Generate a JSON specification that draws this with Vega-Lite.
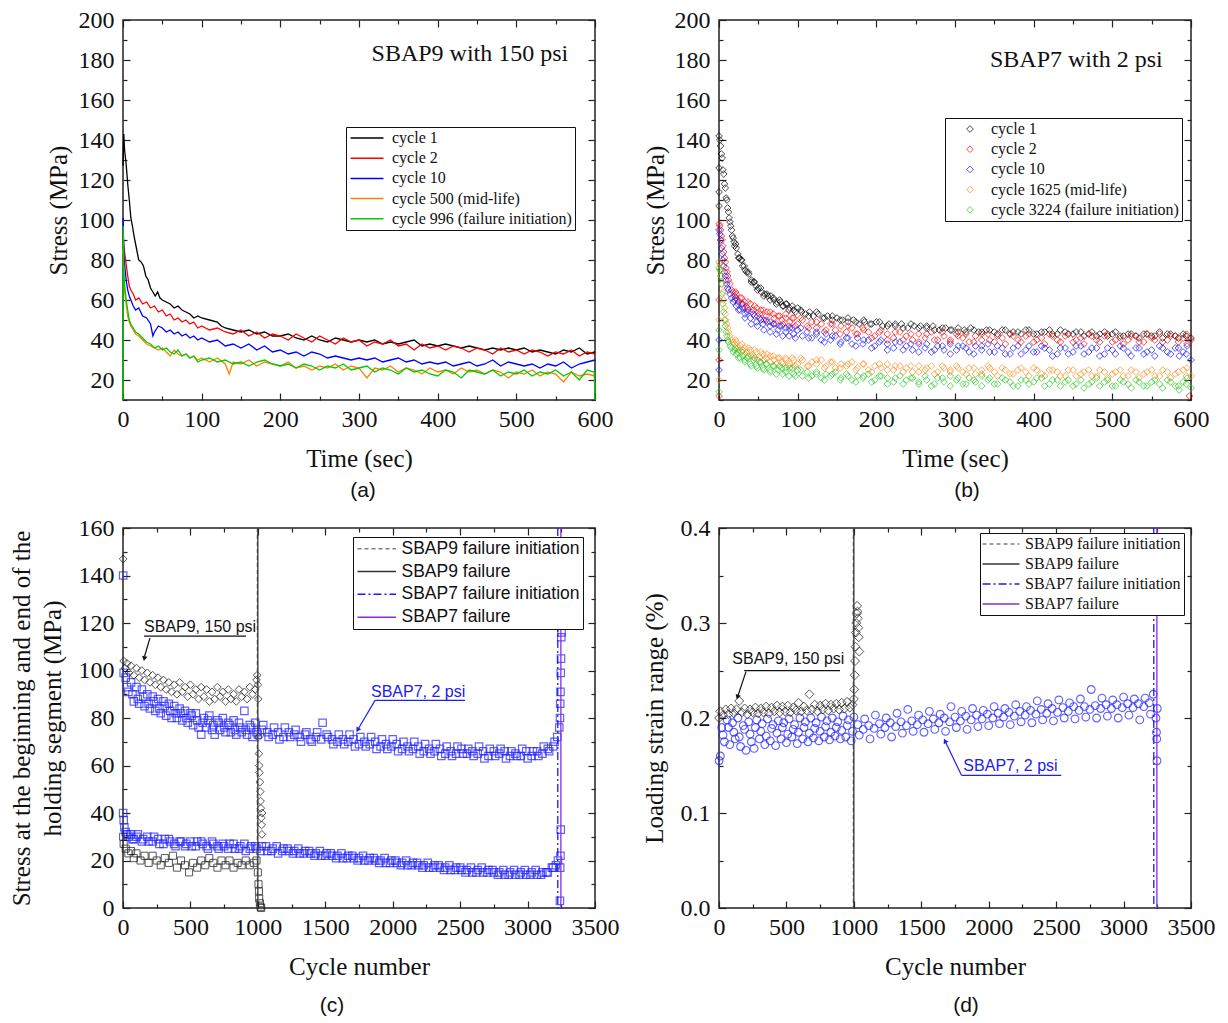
{
"$schema": "https://vega.github.io/schema/vega-lite/v6.json",
"background": "white",
"padding": {"left": 8, "top": 7, "right": 5, "bottom": 5},
"columns": 2,
"spacing": {"row": 128, "column": 124},
"bounds": "flush",
"align": "all",
"resolve": {"scale": {"color": "independent", "shape": "independent", "strokeDash": "independent", "x": "independent", "y": "independent"}, "legend": {"color": "independent", "strokeDash": "independent"}},
"datasets": {
"a": [
{"t":0,"s":127,"c":"1"},{"t":1,"s":143,"c":"1"},{"t":2,"s":135,"c":"1"},{"t":4,"s":128,"c":"1"},{"t":6,"s":118,"c":"1"},{"t":8,"s":110,"c":"1"},{"t":10,"s":101,"c":"1"},{"t":12,"s":97,"c":"1"},{"t":14,"s":92,"c":"1"},{"t":16,"s":88,"c":"1"},{"t":18,"s":84,"c":"1"},{"t":20,"s":80,"c":"1"},{"t":23,"s":79,"c":"1"},{"t":26,"s":77,"c":"1"},{"t":29,"s":72,"c":"1"},{"t":32,"s":70,"c":"1"},{"t":35,"s":66,"c":"1"},{"t":38,"s":64,"c":"1"},{"t":41,"s":62,"c":"1"},{"t":44,"s":64,"c":"1"},{"t":47,"s":61,"c":"1"},{"t":50,"s":60,"c":"1"},{"t":55,"s":59,"c":"1"},{"t":60,"s":58,"c":"1"},{"t":65,"s":56,"c":"1"},{"t":70,"s":57,"c":"1"},{"t":75,"s":55,"c":"1"},{"t":80,"s":54,"c":"1"},{"t":85,"s":53,"c":"1"},{"t":90,"s":51,"c":"1"},{"t":95,"s":52,"c":"1"},{"t":100,"s":51,"c":"1"},{"t":110,"s":50,"c":"1"},{"t":120,"s":49,"c":"1"},{"t":125,"s":47,"c":"1"},{"t":130,"s":46,"c":"1"},{"t":140,"s":45,"c":"1"},{"t":150,"s":44,"c":"1"},{"t":160,"s":45,"c":"1"},{"t":170,"s":43,"c":"1"},{"t":180,"s":44,"c":"1"},{"t":190,"s":42,"c":"1"},{"t":200,"s":42,"c":"1"},{"t":210,"s":43,"c":"1"},{"t":220,"s":41,"c":"1"},{"t":230,"s":40,"c":"1"},{"t":240,"s":42,"c":"1"},{"t":250,"s":40,"c":"1"},{"t":260,"s":39,"c":"1"},{"t":270,"s":41,"c":"1"},{"t":280,"s":40,"c":"1"},{"t":290,"s":39,"c":"1"},{"t":300,"s":40,"c":"1"},{"t":310,"s":39,"c":"1"},{"t":320,"s":40,"c":"1"},{"t":330,"s":38,"c":"1"},{"t":340,"s":39,"c":"1"},{"t":350,"s":38,"c":"1"},{"t":360,"s":39,"c":"1"},{"t":370,"s":40,"c":"1"},{"t":380,"s":37,"c":"1"},{"t":390,"s":38,"c":"1"},{"t":400,"s":37,"c":"1"},{"t":410,"s":38,"c":"1"},{"t":420,"s":37,"c":"1"},{"t":430,"s":36,"c":"1"},{"t":440,"s":37,"c":"1"},{"t":450,"s":36,"c":"1"},{"t":460,"s":35,"c":"1"},{"t":470,"s":36,"c":"1"},{"t":480,"s":35,"c":"1"},{"t":490,"s":36,"c":"1"},{"t":500,"s":35,"c":"1"},{"t":510,"s":36,"c":"1"},{"t":520,"s":34,"c":"1"},{"t":530,"s":35,"c":"1"},{"t":540,"s":34,"c":"1"},{"t":550,"s":33,"c":"1"},{"t":560,"s":35,"c":"1"},{"t":570,"s":34,"c":"1"},{"t":580,"s":36,"c":"1"},{"t":590,"s":33,"c":"1"},{"t":600,"s":34,"c":"1"},
{"t":0,"s":93,"c":"2"},{"t":1,"s":88,"c":"2"},{"t":2,"s":84,"c":"2"},{"t":4,"s":78,"c":"2"},{"t":6,"s":72,"c":"2"},{"t":8,"s":67,"c":"2"},{"t":10,"s":65,"c":"2"},{"t":13,"s":63,"c":"2"},{"t":16,"s":60,"c":"2"},{"t":20,"s":61,"c":"2"},{"t":25,"s":58,"c":"2"},{"t":30,"s":59,"c":"2"},{"t":35,"s":56,"c":"2"},{"t":40,"s":57,"c":"2"},{"t":45,"s":54,"c":"2"},{"t":50,"s":55,"c":"2"},{"t":55,"s":52,"c":"2"},{"t":60,"s":53,"c":"2"},{"t":65,"s":50,"c":"2"},{"t":70,"s":51,"c":"2"},{"t":75,"s":49,"c":"2"},{"t":80,"s":50,"c":"2"},{"t":85,"s":48,"c":"2"},{"t":90,"s":49,"c":"2"},{"t":95,"s":46,"c":"2"},{"t":100,"s":47,"c":"2"},{"t":110,"s":45,"c":"2"},{"t":120,"s":46,"c":"2"},{"t":130,"s":44,"c":"2"},{"t":140,"s":43,"c":"2"},{"t":150,"s":45,"c":"2"},{"t":160,"s":42,"c":"2"},{"t":170,"s":44,"c":"2"},{"t":180,"s":41,"c":"2"},{"t":190,"s":43,"c":"2"},{"t":200,"s":42,"c":"2"},{"t":210,"s":40,"c":"2"},{"t":220,"s":43,"c":"2"},{"t":230,"s":41,"c":"2"},{"t":240,"s":39,"c":"2"},{"t":250,"s":42,"c":"2"},{"t":260,"s":40,"c":"2"},{"t":270,"s":38,"c":"2"},{"t":280,"s":41,"c":"2"},{"t":290,"s":39,"c":"2"},{"t":300,"s":40,"c":"2"},{"t":310,"s":37,"c":"2"},{"t":320,"s":39,"c":"2"},{"t":330,"s":38,"c":"2"},{"t":340,"s":40,"c":"2"},{"t":350,"s":37,"c":"2"},{"t":360,"s":38,"c":"2"},{"t":370,"s":35,"c":"2"},{"t":380,"s":38,"c":"2"},{"t":390,"s":36,"c":"2"},{"t":400,"s":37,"c":"2"},{"t":410,"s":35,"c":"2"},{"t":420,"s":37,"c":"2"},{"t":430,"s":36,"c":"2"},{"t":440,"s":34,"c":"2"},{"t":450,"s":36,"c":"2"},{"t":460,"s":35,"c":"2"},{"t":470,"s":33,"c":"2"},{"t":480,"s":36,"c":"2"},{"t":490,"s":34,"c":"2"},{"t":500,"s":35,"c":"2"},{"t":510,"s":33,"c":"2"},{"t":520,"s":35,"c":"2"},{"t":530,"s":34,"c":"2"},{"t":540,"s":32,"c":"2"},{"t":550,"s":34,"c":"2"},{"t":560,"s":33,"c":"2"},{"t":570,"s":35,"c":"2"},{"t":580,"s":32,"c":"2"},{"t":590,"s":34,"c":"2"},{"t":600,"s":33,"c":"2"},
{"t":0,"s":101,"c":"10"},{"t":1,"s":85,"c":"10"},{"t":2,"s":78,"c":"10"},{"t":4,"s":70,"c":"10"},{"t":6,"s":65,"c":"10"},{"t":8,"s":62,"c":"10"},{"t":10,"s":60,"c":"10"},{"t":13,"s":57,"c":"10"},{"t":16,"s":55,"c":"10"},{"t":20,"s":56,"c":"10"},{"t":25,"s":52,"c":"10"},{"t":30,"s":51,"c":"10"},{"t":35,"s":48,"c":"10"},{"t":38,"s":42,"c":"10"},{"t":40,"s":44,"c":"10"},{"t":45,"s":47,"c":"10"},{"t":50,"s":46,"c":"10"},{"t":55,"s":44,"c":"10"},{"t":60,"s":45,"c":"10"},{"t":65,"s":43,"c":"10"},{"t":70,"s":44,"c":"10"},{"t":75,"s":42,"c":"10"},{"t":80,"s":43,"c":"10"},{"t":85,"s":41,"c":"10"},{"t":90,"s":42,"c":"10"},{"t":95,"s":40,"c":"10"},{"t":100,"s":41,"c":"10"},{"t":110,"s":39,"c":"10"},{"t":120,"s":40,"c":"10"},{"t":130,"s":37,"c":"10"},{"t":140,"s":38,"c":"10"},{"t":150,"s":36,"c":"10"},{"t":160,"s":38,"c":"10"},{"t":170,"s":35,"c":"10"},{"t":180,"s":37,"c":"10"},{"t":190,"s":34,"c":"10"},{"t":200,"s":35,"c":"10"},{"t":210,"s":33,"c":"10"},{"t":220,"s":34,"c":"10"},{"t":230,"s":32,"c":"10"},{"t":240,"s":34,"c":"10"},{"t":250,"s":33,"c":"10"},{"t":260,"s":31,"c":"10"},{"t":270,"s":32,"c":"10"},{"t":280,"s":31,"c":"10"},{"t":290,"s":30,"c":"10"},{"t":300,"s":31,"c":"10"},{"t":310,"s":30,"c":"10"},{"t":320,"s":31,"c":"10"},{"t":330,"s":29,"c":"10"},{"t":340,"s":30,"c":"10"},{"t":350,"s":31,"c":"10"},{"t":360,"s":29,"c":"10"},{"t":370,"s":30,"c":"10"},{"t":380,"s":28,"c":"10"},{"t":390,"s":29,"c":"10"},{"t":400,"s":28,"c":"10"},{"t":410,"s":29,"c":"10"},{"t":420,"s":27,"c":"10"},{"t":430,"s":28,"c":"10"},{"t":440,"s":29,"c":"10"},{"t":450,"s":27,"c":"10"},{"t":460,"s":28,"c":"10"},{"t":470,"s":30,"c":"10"},{"t":480,"s":27,"c":"10"},{"t":490,"s":29,"c":"10"},{"t":500,"s":28,"c":"10"},{"t":510,"s":27,"c":"10"},{"t":520,"s":28,"c":"10"},{"t":530,"s":26,"c":"10"},{"t":540,"s":28,"c":"10"},{"t":550,"s":27,"c":"10"},{"t":560,"s":29,"c":"10"},{"t":570,"s":26,"c":"10"},{"t":580,"s":28,"c":"10"},{"t":590,"s":29,"c":"10"},{"t":600,"s":30,"c":"10"},
{"t":0,"s":85,"c":"500"},{"t":1,"s":70,"c":"500"},{"t":2,"s":64,"c":"500"},{"t":4,"s":58,"c":"500"},{"t":6,"s":52,"c":"500"},{"t":8,"s":49,"c":"500"},{"t":10,"s":47,"c":"500"},{"t":13,"s":45,"c":"500"},{"t":16,"s":43,"c":"500"},{"t":20,"s":42,"c":"500"},{"t":25,"s":40,"c":"500"},{"t":30,"s":38,"c":"500"},{"t":35,"s":37,"c":"500"},{"t":40,"s":36,"c":"500"},{"t":45,"s":35,"c":"500"},{"t":50,"s":36,"c":"500"},{"t":55,"s":34,"c":"500"},{"t":60,"s":32,"c":"500"},{"t":65,"s":35,"c":"500"},{"t":70,"s":33,"c":"500"},{"t":75,"s":32,"c":"500"},{"t":80,"s":33,"c":"500"},{"t":85,"s":31,"c":"500"},{"t":90,"s":32,"c":"500"},{"t":95,"s":30,"c":"500"},{"t":100,"s":31,"c":"500"},{"t":110,"s":29,"c":"500"},{"t":120,"s":31,"c":"500"},{"t":130,"s":28,"c":"500"},{"t":135,"s":23,"c":"500"},{"t":140,"s":29,"c":"500"},{"t":150,"s":28,"c":"500"},{"t":160,"s":30,"c":"500"},{"t":170,"s":27,"c":"500"},{"t":180,"s":29,"c":"500"},{"t":190,"s":28,"c":"500"},{"t":200,"s":27,"c":"500"},{"t":210,"s":29,"c":"500"},{"t":220,"s":26,"c":"500"},{"t":230,"s":27,"c":"500"},{"t":240,"s":25,"c":"500"},{"t":250,"s":27,"c":"500"},{"t":260,"s":26,"c":"500"},{"t":270,"s":28,"c":"500"},{"t":280,"s":25,"c":"500"},{"t":290,"s":27,"c":"500"},{"t":300,"s":26,"c":"500"},{"t":310,"s":21,"c":"500"},{"t":320,"s":26,"c":"500"},{"t":330,"s":25,"c":"500"},{"t":340,"s":27,"c":"500"},{"t":350,"s":24,"c":"500"},{"t":360,"s":26,"c":"500"},{"t":370,"s":25,"c":"500"},{"t":380,"s":23,"c":"500"},{"t":390,"s":26,"c":"500"},{"t":400,"s":24,"c":"500"},{"t":410,"s":25,"c":"500"},{"t":420,"s":23,"c":"500"},{"t":430,"s":26,"c":"500"},{"t":440,"s":24,"c":"500"},{"t":450,"s":25,"c":"500"},{"t":460,"s":23,"c":"500"},{"t":470,"s":25,"c":"500"},{"t":480,"s":24,"c":"500"},{"t":490,"s":21,"c":"500"},{"t":500,"s":24,"c":"500"},{"t":510,"s":23,"c":"500"},{"t":520,"s":25,"c":"500"},{"t":530,"s":22,"c":"500"},{"t":540,"s":24,"c":"500"},{"t":550,"s":23,"c":"500"},{"t":560,"s":19,"c":"500"},{"t":570,"s":24,"c":"500"},{"t":580,"s":22,"c":"500"},{"t":590,"s":23,"c":"500"},{"t":600,"s":22,"c":"500"},
{"t":0,"s":10,"c":"996"},{"t":0.3,"s":97,"c":"996"},{"t":1,"s":75,"c":"996"},{"t":2,"s":68,"c":"996"},{"t":4,"s":60,"c":"996"},{"t":6,"s":55,"c":"996"},{"t":8,"s":50,"c":"996"},{"t":10,"s":48,"c":"996"},{"t":13,"s":46,"c":"996"},{"t":16,"s":44,"c":"996"},{"t":20,"s":43,"c":"996"},{"t":25,"s":41,"c":"996"},{"t":30,"s":39,"c":"996"},{"t":35,"s":38,"c":"996"},{"t":40,"s":36,"c":"996"},{"t":45,"s":37,"c":"996"},{"t":50,"s":35,"c":"996"},{"t":55,"s":36,"c":"996"},{"t":60,"s":34,"c":"996"},{"t":65,"s":33,"c":"996"},{"t":70,"s":35,"c":"996"},{"t":75,"s":32,"c":"996"},{"t":80,"s":33,"c":"996"},{"t":85,"s":31,"c":"996"},{"t":90,"s":32,"c":"996"},{"t":95,"s":29,"c":"996"},{"t":100,"s":30,"c":"996"},{"t":110,"s":31,"c":"996"},{"t":120,"s":29,"c":"996"},{"t":130,"s":30,"c":"996"},{"t":140,"s":28,"c":"996"},{"t":150,"s":29,"c":"996"},{"t":160,"s":27,"c":"996"},{"t":170,"s":29,"c":"996"},{"t":180,"s":30,"c":"996"},{"t":190,"s":28,"c":"996"},{"t":200,"s":27,"c":"996"},{"t":210,"s":28,"c":"996"},{"t":220,"s":26,"c":"996"},{"t":230,"s":28,"c":"996"},{"t":240,"s":27,"c":"996"},{"t":250,"s":25,"c":"996"},{"t":260,"s":27,"c":"996"},{"t":270,"s":26,"c":"996"},{"t":280,"s":28,"c":"996"},{"t":290,"s":25,"c":"996"},{"t":300,"s":26,"c":"996"},{"t":310,"s":27,"c":"996"},{"t":320,"s":24,"c":"996"},{"t":330,"s":26,"c":"996"},{"t":340,"s":25,"c":"996"},{"t":350,"s":23,"c":"996"},{"t":360,"s":26,"c":"996"},{"t":370,"s":24,"c":"996"},{"t":380,"s":25,"c":"996"},{"t":390,"s":23,"c":"996"},{"t":400,"s":22,"c":"996"},{"t":410,"s":25,"c":"996"},{"t":420,"s":24,"c":"996"},{"t":430,"s":21,"c":"996"},{"t":440,"s":25,"c":"996"},{"t":450,"s":24,"c":"996"},{"t":460,"s":23,"c":"996"},{"t":470,"s":25,"c":"996"},{"t":480,"s":22,"c":"996"},{"t":490,"s":24,"c":"996"},{"t":500,"s":23,"c":"996"},{"t":510,"s":25,"c":"996"},{"t":520,"s":22,"c":"996"},{"t":530,"s":24,"c":"996"},{"t":540,"s":23,"c":"996"},{"t":550,"s":25,"c":"996"},{"t":560,"s":22,"c":"996"},{"t":570,"s":24,"c":"996"},{"t":580,"s":20,"c":"996"},{"t":590,"s":25,"c":"996"},{"t":599,"s":24,"c":"996"},{"t":600,"s":10,"c":"996"}
],
"b": [
{"t":0,"s":142,"c":"1"},{"t":0,"s":126,"c":"1"},{"t":0,"s":114,"c":"1"},{"t":0,"s":107,"c":"1"},{"t":1,"s":140,"c":"1"},{"t":2,"s":137,"c":"1"},{"t":3,"s":133,"c":"1"},{"t":4,"s":131,"c":"1"},{"t":5,"s":125,"c":"1"},{"t":6,"s":123,"c":"1"},{"t":7,"s":118,"c":"1"},{"t":8,"s":116,"c":"1"},{"t":9,"s":111,"c":"1"},{"t":10,"s":110,"c":"1"},{"t":11,"s":106,"c":"1"},{"t":12,"s":104,"c":"1"},{"t":13,"s":101,"c":"1"},{"t":14,"s":99,"c":"1"},{"t":15,"s":97,"c":"1"},{"t":16,"s":95,"c":"1"},{"t":17,"s":92,"c":"1"},{"t":18,"s":91,"c":"1"},{"t":19,"s":89,"c":"1"},{"t":20,"s":87,"c":"1"},{"t":22,"s":86,"c":"1"},{"t":24,"s":83,"c":"1"},{"t":26,"s":81,"c":"1"},{"t":28,"s":80,"c":"1"},{"t":30,"s":77,"c":"1"},{"t":32,"s":77,"c":"1"},{"t":35,"s":74,"c":"1"},{"t":38,"s":73,"c":"1"},{"t":41,"s":70,"c":"1"},{"t":44,"s":69,"c":"1"},{"t":47,"s":67,"c":"1"},{"t":50,"s":66,"c":"1"},{"t":54,"s":64,"c":"1"},{"t":58,"s":63,"c":"1"},{"t":62,"s":62,"c":"1"},{"t":66,"s":62,"c":"1"},{"t":70,"s":60,"c":"1"},{"t":74,"s":59,"c":"1"},{"t":78,"s":59,"c":"1"},{"t":82,"s":57,"c":"1"},{"t":86,"s":58,"c":"1"},{"t":90,"s":56,"c":"1"},{"t":95,"s":55,"c":"1"},{"t":100,"s":56,"c":"1"},{"t":105,"s":54,"c":"1"},{"t":110,"s":53,"c":"1"},{"t":115,"s":54,"c":"1"},{"t":120,"s":52,"c":"1"},{"t":126,"s":53,"c":"1"},{"t":132,"s":51,"c":"1"},{"t":138,"s":52,"c":"1"},{"t":144,"s":50,"c":"1"},{"t":150,"s":51,"c":"1"},{"t":157,"s":50,"c":"1"},{"t":164,"s":49,"c":"1"},{"t":171,"s":50,"c":"1"},{"t":178,"s":48,"c":"1"},{"t":185,"s":49,"c":"1"},{"t":192,"s":48,"c":"1"},{"t":200,"s":49,"c":"1"},{"t":208,"s":47,"c":"1"},{"t":216,"s":48,"c":"1"},{"t":224,"s":47,"c":"1"},{"t":232,"s":48,"c":"1"},{"t":240,"s":46,"c":"1"},{"t":248,"s":47,"c":"1"},{"t":256,"s":47,"c":"1"},{"t":264,"s":46,"c":"1"},{"t":272,"s":47,"c":"1"},{"t":280,"s":45,"c":"1"},{"t":288,"s":46,"c":"1"},{"t":296,"s":45,"c":"1"},{"t":304,"s":44,"c":"1"},{"t":312,"s":45,"c":"1"},{"t":320,"s":46,"c":"1"},{"t":330,"s":44,"c":"1"},{"t":340,"s":45,"c":"1"},{"t":350,"s":44,"c":"1"},{"t":360,"s":45,"c":"1"},{"t":370,"s":43,"c":"1"},{"t":380,"s":44,"c":"1"},{"t":390,"s":45,"c":"1"},{"t":400,"s":43,"c":"1"},{"t":410,"s":44,"c":"1"},{"t":420,"s":45,"c":"1"},{"t":430,"s":43,"c":"1"},{"t":440,"s":44,"c":"1"},{"t":450,"s":43,"c":"1"},{"t":460,"s":44,"c":"1"},{"t":470,"s":43,"c":"1"},{"t":480,"s":42,"c":"1"},{"t":490,"s":44,"c":"1"},{"t":500,"s":43,"c":"1"},{"t":510,"s":42,"c":"1"},{"t":520,"s":43,"c":"1"},{"t":530,"s":42,"c":"1"},{"t":540,"s":43,"c":"1"},{"t":550,"s":42,"c":"1"},{"t":560,"s":44,"c":"1"},{"t":570,"s":43,"c":"1"},{"t":580,"s":42,"c":"1"},{"t":590,"s":43,"c":"1"},{"t":600,"s":41,"c":"1"},
{"t":21,"s":88,"c":"1"},{"t":25,"s":81,"c":"1"},{"t":29,"s":80,"c":"1"},{"t":33,"s":75,"c":"1"},{"t":37,"s":74,"c":"1"},{"t":41,"s":69,"c":"1"},{"t":45,"s":69,"c":"1"},{"t":49,"s":65,"c":"1"},{"t":53,"s":66,"c":"1"},{"t":57,"s":62,"c":"1"},{"t":61,"s":63,"c":"1"},{"t":65,"s":60,"c":"1"},{"t":69,"s":61,"c":"1"},{"t":73,"s":58,"c":"1"},{"t":77,"s":60,"c":"1"},{"t":81,"s":57,"c":"1"},{"t":85,"s":58,"c":"1"},{"t":89,"s":55,"c":"1"},{"t":93,"s":57,"c":"1"},{"t":97,"s":54,"c":"1"},{"t":104,"s":55,"c":"1"},{"t":114,"s":52,"c":"1"},{"t":124,"s":54,"c":"1"},{"t":134,"s":51,"c":"1"},{"t":144,"s":52,"c":"1"},{"t":154,"s":50,"c":"1"},{"t":164,"s":51,"c":"1"},{"t":174,"s":49,"c":"1"},{"t":184,"s":50,"c":"1"},{"t":194,"s":48,"c":"1"},{"t":204,"s":49,"c":"1"},{"t":214,"s":47,"c":"1"},{"t":224,"s":48,"c":"1"},{"t":234,"s":46,"c":"1"},{"t":244,"s":48,"c":"1"},{"t":254,"s":46,"c":"1"},{"t":264,"s":47,"c":"1"},{"t":274,"s":45,"c":"1"},{"t":284,"s":46,"c":"1"},{"t":294,"s":45,"c":"1"},{"t":304,"s":46,"c":"1"},{"t":314,"s":44,"c":"1"},{"t":324,"s":45,"c":"1"},{"t":334,"s":44,"c":"1"},{"t":344,"s":45,"c":"1"},{"t":354,"s":43,"c":"1"},{"t":364,"s":45,"c":"1"},{"t":374,"s":44,"c":"1"},{"t":384,"s":43,"c":"1"},{"t":394,"s":45,"c":"1"},{"t":404,"s":43,"c":"1"},{"t":414,"s":44,"c":"1"},{"t":424,"s":43,"c":"1"},{"t":434,"s":45,"c":"1"},{"t":444,"s":43,"c":"1"},{"t":454,"s":44,"c":"1"},{"t":464,"s":42,"c":"1"},{"t":474,"s":44,"c":"1"},{"t":484,"s":43,"c":"1"},{"t":494,"s":42,"c":"1"},{"t":504,"s":44,"c":"1"},{"t":514,"s":42,"c":"1"},{"t":524,"s":43,"c":"1"},{"t":534,"s":41,"c":"1"},{"t":544,"s":43,"c":"1"},{"t":554,"s":42,"c":"1"},{"t":564,"s":41,"c":"1"},{"t":574,"s":43,"c":"1"},{"t":584,"s":41,"c":"1"},{"t":594,"s":42,"c":"1"},
{"t":0,"s":98,"c":"2"},{"t":0,"s":60,"c":"2"},{"t":0,"s":30,"c":"2"},{"t":0,"s":12,"c":"2"},{"t":1,"s":97,"c":"2"},{"t":2,"s":95,"c":"2"},{"t":3,"s":92,"c":"2"},{"t":4,"s":90,"c":"2"},{"t":5,"s":87,"c":"2"},{"t":6,"s":84,"c":"2"},{"t":7,"s":81,"c":"2"},{"t":8,"s":79,"c":"2"},{"t":9,"s":76,"c":"2"},{"t":10,"s":74,"c":"2"},{"t":11,"s":72,"c":"2"},{"t":12,"s":70,"c":"2"},{"t":14,"s":68,"c":"2"},{"t":16,"s":65,"c":"2"},{"t":18,"s":64,"c":"2"},{"t":20,"s":62,"c":"2"},{"t":22,"s":63,"c":"2"},{"t":24,"s":60,"c":"2"},{"t":27,"s":61,"c":"2"},{"t":30,"s":58,"c":"2"},{"t":33,"s":59,"c":"2"},{"t":36,"s":56,"c":"2"},{"t":40,"s":58,"c":"2"},{"t":44,"s":55,"c":"2"},{"t":48,"s":56,"c":"2"},{"t":52,"s":53,"c":"2"},{"t":56,"s":55,"c":"2"},{"t":60,"s":52,"c":"2"},{"t":65,"s":54,"c":"2"},{"t":70,"s":51,"c":"2"},{"t":75,"s":52,"c":"2"},{"t":80,"s":50,"c":"2"},{"t":85,"s":53,"c":"2"},{"t":90,"s":49,"c":"2"},{"t":95,"s":51,"c":"2"},{"t":100,"s":48,"c":"2"},{"t":106,"s":50,"c":"2"},{"t":112,"s":47,"c":"2"},{"t":118,"s":49,"c":"2"},{"t":124,"s":46,"c":"2"},{"t":130,"s":48,"c":"2"},{"t":136,"s":45,"c":"2"},{"t":142,"s":48,"c":"2"},{"t":148,"s":45,"c":"2"},{"t":155,"s":47,"c":"2"},{"t":162,"s":44,"c":"2"},{"t":169,"s":46,"c":"2"},{"t":176,"s":43,"c":"2"},{"t":183,"s":46,"c":"2"},{"t":190,"s":44,"c":"2"},{"t":198,"s":42,"c":"2"},{"t":206,"s":45,"c":"2"},{"t":214,"s":43,"c":"2"},{"t":222,"s":41,"c":"2"},{"t":230,"s":44,"c":"2"},{"t":238,"s":42,"c":"2"},{"t":246,"s":40,"c":"2"},{"t":254,"s":43,"c":"2"},{"t":262,"s":41,"c":"2"},{"t":270,"s":44,"c":"2"},{"t":278,"s":40,"c":"2"},{"t":286,"s":42,"c":"2"},{"t":294,"s":39,"c":"2"},{"t":302,"s":43,"c":"2"},{"t":310,"s":41,"c":"2"},{"t":318,"s":39,"c":"2"},{"t":326,"s":42,"c":"2"},{"t":334,"s":40,"c":"2"},{"t":342,"s":43,"c":"2"},{"t":350,"s":39,"c":"2"},{"t":360,"s":41,"c":"2"},{"t":370,"s":43,"c":"2"},{"t":380,"s":40,"c":"2"},{"t":390,"s":42,"c":"2"},{"t":400,"s":39,"c":"2"},{"t":410,"s":41,"c":"2"},{"t":420,"s":43,"c":"2"},{"t":430,"s":40,"c":"2"},{"t":440,"s":42,"c":"2"},{"t":450,"s":39,"c":"2"},{"t":460,"s":41,"c":"2"},{"t":470,"s":43,"c":"2"},{"t":480,"s":40,"c":"2"},{"t":490,"s":42,"c":"2"},{"t":500,"s":39,"c":"2"},{"t":510,"s":41,"c":"2"},{"t":520,"s":40,"c":"2"},{"t":530,"s":42,"c":"2"},{"t":540,"s":39,"c":"2"},{"t":550,"s":41,"c":"2"},{"t":560,"s":43,"c":"2"},{"t":570,"s":40,"c":"2"},{"t":580,"s":42,"c":"2"},{"t":590,"s":41,"c":"2"},{"t":595,"s":38,"c":"2"},{"t":598,"s":12,"c":"2"},{"t":600,"s":40,"c":"2"},
{"t":21,"s":64,"c":"2"},{"t":25,"s":59,"c":"2"},{"t":29,"s":61,"c":"2"},{"t":33,"s":56,"c":"2"},{"t":37,"s":59,"c":"2"},{"t":41,"s":54,"c":"2"},{"t":45,"s":57,"c":"2"},{"t":49,"s":52,"c":"2"},{"t":53,"s":55,"c":"2"},{"t":57,"s":50,"c":"2"},{"t":61,"s":54,"c":"2"},{"t":65,"s":49,"c":"2"},{"t":69,"s":53,"c":"2"},{"t":73,"s":48,"c":"2"},{"t":77,"s":52,"c":"2"},{"t":81,"s":48,"c":"2"},{"t":85,"s":51,"c":"2"},{"t":89,"s":47,"c":"2"},{"t":93,"s":51,"c":"2"},{"t":97,"s":47,"c":"2"},{"t":104,"s":51,"c":"2"},{"t":114,"s":46,"c":"2"},{"t":124,"s":49,"c":"2"},{"t":134,"s":44,"c":"2"},{"t":144,"s":48,"c":"2"},{"t":154,"s":43,"c":"2"},{"t":164,"s":47,"c":"2"},{"t":174,"s":43,"c":"2"},{"t":184,"s":45,"c":"2"},{"t":194,"s":41,"c":"2"},{"t":204,"s":44,"c":"2"},{"t":214,"s":40,"c":"2"},{"t":224,"s":44,"c":"2"},{"t":234,"s":40,"c":"2"},{"t":244,"s":43,"c":"2"},{"t":254,"s":39,"c":"2"},{"t":264,"s":43,"c":"2"},{"t":274,"s":40,"c":"2"},{"t":284,"s":44,"c":"2"},{"t":294,"s":40,"c":"2"},{"t":304,"s":42,"c":"2"},{"t":314,"s":43,"c":"2"},{"t":324,"s":39,"c":"2"},{"t":334,"s":43,"c":"2"},{"t":344,"s":40,"c":"2"},{"t":354,"s":42,"c":"2"},{"t":364,"s":38,"c":"2"},{"t":374,"s":42,"c":"2"},{"t":384,"s":39,"c":"2"},{"t":394,"s":43,"c":"2"},{"t":404,"s":40,"c":"2"},{"t":414,"s":38,"c":"2"},{"t":424,"s":42,"c":"2"},{"t":434,"s":39,"c":"2"},{"t":444,"s":43,"c":"2"},{"t":454,"s":40,"c":"2"},{"t":464,"s":38,"c":"2"},{"t":474,"s":42,"c":"2"},{"t":484,"s":39,"c":"2"},{"t":494,"s":43,"c":"2"},{"t":504,"s":40,"c":"2"},{"t":514,"s":38,"c":"2"},{"t":524,"s":42,"c":"2"},{"t":534,"s":39,"c":"2"},{"t":544,"s":43,"c":"2"},{"t":554,"s":40,"c":"2"},{"t":564,"s":39,"c":"2"},{"t":574,"s":42,"c":"2"},{"t":584,"s":39,"c":"2"},{"t":594,"s":43,"c":"2"},
{"t":0,"s":95,"c":"10"},{"t":0,"s":40,"c":"10"},{"t":0,"s":25,"c":"10"},{"t":1,"s":93,"c":"10"},{"t":2,"s":90,"c":"10"},{"t":3,"s":86,"c":"10"},{"t":4,"s":83,"c":"10"},{"t":5,"s":80,"c":"10"},{"t":6,"s":77,"c":"10"},{"t":7,"s":74,"c":"10"},{"t":8,"s":72,"c":"10"},{"t":9,"s":70,"c":"10"},{"t":10,"s":68,"c":"10"},{"t":11,"s":66,"c":"10"},{"t":12,"s":65,"c":"10"},{"t":14,"s":63,"c":"10"},{"t":16,"s":61,"c":"10"},{"t":18,"s":59,"c":"10"},{"t":20,"s":60,"c":"10"},{"t":22,"s":57,"c":"10"},{"t":24,"s":58,"c":"10"},{"t":27,"s":55,"c":"10"},{"t":30,"s":56,"c":"10"},{"t":33,"s":53,"c":"10"},{"t":36,"s":54,"c":"10"},{"t":40,"s":51,"c":"10"},{"t":44,"s":53,"c":"10"},{"t":48,"s":49,"c":"10"},{"t":52,"s":51,"c":"10"},{"t":56,"s":48,"c":"10"},{"t":60,"s":50,"c":"10"},{"t":65,"s":47,"c":"10"},{"t":70,"s":48,"c":"10"},{"t":75,"s":45,"c":"10"},{"t":80,"s":47,"c":"10"},{"t":85,"s":44,"c":"10"},{"t":90,"s":46,"c":"10"},{"t":95,"s":43,"c":"10"},{"t":100,"s":45,"c":"10"},{"t":106,"s":42,"c":"10"},{"t":112,"s":44,"c":"10"},{"t":118,"s":41,"c":"10"},{"t":124,"s":43,"c":"10"},{"t":130,"s":40,"c":"10"},{"t":136,"s":43,"c":"10"},{"t":142,"s":40,"c":"10"},{"t":148,"s":42,"c":"10"},{"t":155,"s":39,"c":"10"},{"t":162,"s":41,"c":"10"},{"t":169,"s":38,"c":"10"},{"t":176,"s":41,"c":"10"},{"t":183,"s":38,"c":"10"},{"t":190,"s":40,"c":"10"},{"t":198,"s":37,"c":"10"},{"t":206,"s":40,"c":"10"},{"t":214,"s":38,"c":"10"},{"t":222,"s":36,"c":"10"},{"t":230,"s":39,"c":"10"},{"t":238,"s":37,"c":"10"},{"t":246,"s":35,"c":"10"},{"t":254,"s":38,"c":"10"},{"t":262,"s":36,"c":"10"},{"t":270,"s":34,"c":"10"},{"t":278,"s":37,"c":"10"},{"t":286,"s":35,"c":"10"},{"t":294,"s":38,"c":"10"},{"t":302,"s":35,"c":"10"},{"t":310,"s":37,"c":"10"},{"t":318,"s":34,"c":"10"},{"t":326,"s":37,"c":"10"},{"t":334,"s":35,"c":"10"},{"t":342,"s":38,"c":"10"},{"t":350,"s":34,"c":"10"},{"t":360,"s":36,"c":"10"},{"t":370,"s":33,"c":"10"},{"t":380,"s":37,"c":"10"},{"t":390,"s":35,"c":"10"},{"t":400,"s":34,"c":"10"},{"t":410,"s":37,"c":"10"},{"t":420,"s":35,"c":"10"},{"t":430,"s":33,"c":"10"},{"t":440,"s":36,"c":"10"},{"t":450,"s":34,"c":"10"},{"t":460,"s":37,"c":"10"},{"t":470,"s":34,"c":"10"},{"t":480,"s":36,"c":"10"},{"t":490,"s":33,"c":"10"},{"t":500,"s":35,"c":"10"},{"t":510,"s":37,"c":"10"},{"t":520,"s":34,"c":"10"},{"t":530,"s":36,"c":"10"},{"t":540,"s":33,"c":"10"},{"t":550,"s":35,"c":"10"},{"t":560,"s":37,"c":"10"},{"t":570,"s":34,"c":"10"},{"t":580,"s":36,"c":"10"},{"t":585,"s":32,"c":"10"},{"t":590,"s":34,"c":"10"},{"t":595,"s":37,"c":"10"},{"t":600,"s":30,"c":"10"},
{"t":21,"s":61,"c":"10"},{"t":25,"s":55,"c":"10"},{"t":29,"s":58,"c":"10"},{"t":33,"s":51,"c":"10"},{"t":37,"s":55,"c":"10"},{"t":41,"s":48,"c":"10"},{"t":45,"s":52,"c":"10"},{"t":49,"s":47,"c":"10"},{"t":53,"s":50,"c":"10"},{"t":57,"s":45,"c":"10"},{"t":61,"s":49,"c":"10"},{"t":65,"s":44,"c":"10"},{"t":69,"s":48,"c":"10"},{"t":73,"s":43,"c":"10"},{"t":77,"s":47,"c":"10"},{"t":81,"s":42,"c":"10"},{"t":85,"s":46,"c":"10"},{"t":89,"s":42,"c":"10"},{"t":93,"s":46,"c":"10"},{"t":97,"s":41,"c":"10"},{"t":104,"s":46,"c":"10"},{"t":114,"s":41,"c":"10"},{"t":124,"s":44,"c":"10"},{"t":134,"s":39,"c":"10"},{"t":144,"s":42,"c":"10"},{"t":154,"s":38,"c":"10"},{"t":164,"s":41,"c":"10"},{"t":174,"s":37,"c":"10"},{"t":184,"s":40,"c":"10"},{"t":194,"s":36,"c":"10"},{"t":204,"s":39,"c":"10"},{"t":214,"s":35,"c":"10"},{"t":224,"s":39,"c":"10"},{"t":234,"s":35,"c":"10"},{"t":244,"s":38,"c":"10"},{"t":254,"s":34,"c":"10"},{"t":264,"s":38,"c":"10"},{"t":274,"s":35,"c":"10"},{"t":284,"s":37,"c":"10"},{"t":294,"s":33,"c":"10"},{"t":304,"s":37,"c":"10"},{"t":314,"s":36,"c":"10"},{"t":324,"s":33,"c":"10"},{"t":334,"s":37,"c":"10"},{"t":344,"s":34,"c":"10"},{"t":354,"s":37,"c":"10"},{"t":364,"s":33,"c":"10"},{"t":374,"s":36,"c":"10"},{"t":384,"s":33,"c":"10"},{"t":394,"s":37,"c":"10"},{"t":404,"s":34,"c":"10"},{"t":414,"s":36,"c":"10"},{"t":424,"s":32,"c":"10"},{"t":434,"s":36,"c":"10"},{"t":444,"s":33,"c":"10"},{"t":454,"s":37,"c":"10"},{"t":464,"s":33,"c":"10"},{"t":474,"s":36,"c":"10"},{"t":484,"s":32,"c":"10"},{"t":494,"s":36,"c":"10"},{"t":504,"s":33,"c":"10"},{"t":514,"s":36,"c":"10"},{"t":524,"s":32,"c":"10"},{"t":534,"s":36,"c":"10"},{"t":544,"s":34,"c":"10"},{"t":554,"s":32,"c":"10"},{"t":564,"s":36,"c":"10"},{"t":574,"s":33,"c":"10"},{"t":584,"s":36,"c":"10"},{"t":594,"s":33,"c":"10"},
{"t":0,"s":79,"c":"1625"},{"t":0,"s":50,"c":"1625"},{"t":0,"s":20,"c":"1625"},{"t":1,"s":78,"c":"1625"},{"t":2,"s":75,"c":"1625"},{"t":3,"s":72,"c":"1625"},{"t":4,"s":68,"c":"1625"},{"t":5,"s":64,"c":"1625"},{"t":6,"s":60,"c":"1625"},{"t":7,"s":56,"c":"1625"},{"t":8,"s":53,"c":"1625"},{"t":9,"s":50,"c":"1625"},{"t":10,"s":48,"c":"1625"},{"t":11,"s":46,"c":"1625"},{"t":12,"s":44,"c":"1625"},{"t":14,"s":42,"c":"1625"},{"t":16,"s":40,"c":"1625"},{"t":18,"s":39,"c":"1625"},{"t":20,"s":38,"c":"1625"},{"t":22,"s":39,"c":"1625"},{"t":24,"s":36,"c":"1625"},{"t":27,"s":37,"c":"1625"},{"t":30,"s":35,"c":"1625"},{"t":33,"s":36,"c":"1625"},{"t":36,"s":34,"c":"1625"},{"t":40,"s":35,"c":"1625"},{"t":44,"s":32,"c":"1625"},{"t":48,"s":34,"c":"1625"},{"t":52,"s":31,"c":"1625"},{"t":56,"s":33,"c":"1625"},{"t":60,"s":31,"c":"1625"},{"t":65,"s":32,"c":"1625"},{"t":70,"s":30,"c":"1625"},{"t":75,"s":31,"c":"1625"},{"t":80,"s":29,"c":"1625"},{"t":85,"s":31,"c":"1625"},{"t":90,"s":28,"c":"1625"},{"t":95,"s":30,"c":"1625"},{"t":100,"s":28,"c":"1625"},{"t":106,"s":30,"c":"1625"},{"t":112,"s":27,"c":"1625"},{"t":118,"s":29,"c":"1625"},{"t":124,"s":28,"c":"1625"},{"t":130,"s":30,"c":"1625"},{"t":136,"s":27,"c":"1625"},{"t":142,"s":29,"c":"1625"},{"t":148,"s":26,"c":"1625"},{"t":155,"s":28,"c":"1625"},{"t":162,"s":27,"c":"1625"},{"t":169,"s":29,"c":"1625"},{"t":176,"s":26,"c":"1625"},{"t":183,"s":28,"c":"1625"},{"t":190,"s":25,"c":"1625"},{"t":198,"s":27,"c":"1625"},{"t":206,"s":26,"c":"1625"},{"t":214,"s":28,"c":"1625"},{"t":222,"s":25,"c":"1625"},{"t":230,"s":27,"c":"1625"},{"t":238,"s":26,"c":"1625"},{"t":246,"s":24,"c":"1625"},{"t":254,"s":27,"c":"1625"},{"t":262,"s":25,"c":"1625"},{"t":270,"s":27,"c":"1625"},{"t":278,"s":24,"c":"1625"},{"t":286,"s":26,"c":"1625"},{"t":294,"s":25,"c":"1625"},{"t":302,"s":27,"c":"1625"},{"t":310,"s":24,"c":"1625"},{"t":318,"s":26,"c":"1625"},{"t":326,"s":23,"c":"1625"},{"t":334,"s":25,"c":"1625"},{"t":342,"s":27,"c":"1625"},{"t":350,"s":24,"c":"1625"},{"t":360,"s":26,"c":"1625"},{"t":370,"s":23,"c":"1625"},{"t":380,"s":25,"c":"1625"},{"t":390,"s":24,"c":"1625"},{"t":400,"s":26,"c":"1625"},{"t":410,"s":23,"c":"1625"},{"t":420,"s":25,"c":"1625"},{"t":430,"s":24,"c":"1625"},{"t":440,"s":22,"c":"1625"},{"t":450,"s":25,"c":"1625"},{"t":460,"s":23,"c":"1625"},{"t":470,"s":25,"c":"1625"},{"t":480,"s":22,"c":"1625"},{"t":490,"s":24,"c":"1625"},{"t":500,"s":23,"c":"1625"},{"t":510,"s":25,"c":"1625"},{"t":520,"s":22,"c":"1625"},{"t":530,"s":24,"c":"1625"},{"t":540,"s":23,"c":"1625"},{"t":550,"s":25,"c":"1625"},{"t":560,"s":22,"c":"1625"},{"t":570,"s":24,"c":"1625"},{"t":580,"s":23,"c":"1625"},{"t":590,"s":25,"c":"1625"},{"t":595,"s":26,"c":"1625"},{"t":600,"s":22,"c":"1625"},
{"t":21,"s":40,"c":"1625"},{"t":25,"s":35,"c":"1625"},{"t":29,"s":38,"c":"1625"},{"t":33,"s":33,"c":"1625"},{"t":37,"s":36,"c":"1625"},{"t":41,"s":32,"c":"1625"},{"t":45,"s":35,"c":"1625"},{"t":49,"s":30,"c":"1625"},{"t":53,"s":34,"c":"1625"},{"t":57,"s":30,"c":"1625"},{"t":61,"s":33,"c":"1625"},{"t":65,"s":29,"c":"1625"},{"t":69,"s":32,"c":"1625"},{"t":73,"s":28,"c":"1625"},{"t":77,"s":31,"c":"1625"},{"t":81,"s":28,"c":"1625"},{"t":85,"s":30,"c":"1625"},{"t":89,"s":27,"c":"1625"},{"t":93,"s":31,"c":"1625"},{"t":97,"s":27,"c":"1625"},{"t":104,"s":31,"c":"1625"},{"t":114,"s":27,"c":"1625"},{"t":124,"s":30,"c":"1625"},{"t":134,"s":26,"c":"1625"},{"t":144,"s":29,"c":"1625"},{"t":154,"s":26,"c":"1625"},{"t":164,"s":28,"c":"1625"},{"t":174,"s":25,"c":"1625"},{"t":184,"s":28,"c":"1625"},{"t":194,"s":24,"c":"1625"},{"t":204,"s":28,"c":"1625"},{"t":214,"s":25,"c":"1625"},{"t":224,"s":27,"c":"1625"},{"t":234,"s":24,"c":"1625"},{"t":244,"s":27,"c":"1625"},{"t":254,"s":24,"c":"1625"},{"t":264,"s":26,"c":"1625"},{"t":274,"s":23,"c":"1625"},{"t":284,"s":27,"c":"1625"},{"t":294,"s":24,"c":"1625"},{"t":304,"s":26,"c":"1625"},{"t":314,"s":23,"c":"1625"},{"t":324,"s":26,"c":"1625"},{"t":334,"s":23,"c":"1625"},{"t":344,"s":26,"c":"1625"},{"t":354,"s":22,"c":"1625"},{"t":364,"s":25,"c":"1625"},{"t":374,"s":23,"c":"1625"},{"t":384,"s":26,"c":"1625"},{"t":394,"s":22,"c":"1625"},{"t":404,"s":25,"c":"1625"},{"t":414,"s":22,"c":"1625"},{"t":424,"s":25,"c":"1625"},{"t":434,"s":22,"c":"1625"},{"t":444,"s":25,"c":"1625"},{"t":454,"s":22,"c":"1625"},{"t":464,"s":24,"c":"1625"},{"t":474,"s":22,"c":"1625"},{"t":484,"s":25,"c":"1625"},{"t":494,"s":21,"c":"1625"},{"t":504,"s":24,"c":"1625"},{"t":514,"s":22,"c":"1625"},{"t":524,"s":25,"c":"1625"},{"t":534,"s":21,"c":"1625"},{"t":544,"s":24,"c":"1625"},{"t":554,"s":22,"c":"1625"},{"t":564,"s":25,"c":"1625"},{"t":574,"s":21,"c":"1625"},{"t":584,"s":24,"c":"1625"},{"t":594,"s":22,"c":"1625"},
{"t":0,"s":76,"c":"3224"},{"t":0,"s":45,"c":"3224"},{"t":0,"s":35,"c":"3224"},{"t":0,"s":14,"c":"3224"},{"t":1,"s":75,"c":"3224"},{"t":2,"s":72,"c":"3224"},{"t":3,"s":68,"c":"3224"},{"t":4,"s":63,"c":"3224"},{"t":5,"s":58,"c":"3224"},{"t":6,"s":54,"c":"3224"},{"t":7,"s":50,"c":"3224"},{"t":8,"s":47,"c":"3224"},{"t":9,"s":44,"c":"3224"},{"t":10,"s":42,"c":"3224"},{"t":11,"s":40,"c":"3224"},{"t":12,"s":39,"c":"3224"},{"t":14,"s":37,"c":"3224"},{"t":16,"s":36,"c":"3224"},{"t":18,"s":34,"c":"3224"},{"t":20,"s":35,"c":"3224"},{"t":22,"s":33,"c":"3224"},{"t":24,"s":34,"c":"3224"},{"t":27,"s":31,"c":"3224"},{"t":30,"s":32,"c":"3224"},{"t":33,"s":30,"c":"3224"},{"t":36,"s":31,"c":"3224"},{"t":40,"s":28,"c":"3224"},{"t":44,"s":30,"c":"3224"},{"t":48,"s":27,"c":"3224"},{"t":52,"s":29,"c":"3224"},{"t":56,"s":26,"c":"3224"},{"t":60,"s":28,"c":"3224"},{"t":65,"s":25,"c":"3224"},{"t":70,"s":27,"c":"3224"},{"t":75,"s":25,"c":"3224"},{"t":80,"s":26,"c":"3224"},{"t":85,"s":24,"c":"3224"},{"t":90,"s":26,"c":"3224"},{"t":95,"s":23,"c":"3224"},{"t":100,"s":25,"c":"3224"},{"t":106,"s":22,"c":"3224"},{"t":112,"s":24,"c":"3224"},{"t":118,"s":22,"c":"3224"},{"t":124,"s":24,"c":"3224"},{"t":130,"s":21,"c":"3224"},{"t":136,"s":23,"c":"3224"},{"t":142,"s":22,"c":"3224"},{"t":148,"s":24,"c":"3224"},{"t":155,"s":21,"c":"3224"},{"t":162,"s":23,"c":"3224"},{"t":169,"s":20,"c":"3224"},{"t":176,"s":22,"c":"3224"},{"t":183,"s":21,"c":"3224"},{"t":190,"s":23,"c":"3224"},{"t":198,"s":20,"c":"3224"},{"t":206,"s":22,"c":"3224"},{"t":214,"s":21,"c":"3224"},{"t":222,"s":19,"c":"3224"},{"t":230,"s":22,"c":"3224"},{"t":238,"s":20,"c":"3224"},{"t":246,"s":21,"c":"3224"},{"t":254,"s":19,"c":"3224"},{"t":262,"s":22,"c":"3224"},{"t":270,"s":17,"c":"3224"},{"t":278,"s":21,"c":"3224"},{"t":286,"s":19,"c":"3224"},{"t":294,"s":22,"c":"3224"},{"t":302,"s":20,"c":"3224"},{"t":310,"s":18,"c":"3224"},{"t":318,"s":21,"c":"3224"},{"t":326,"s":19,"c":"3224"},{"t":334,"s":22,"c":"3224"},{"t":342,"s":20,"c":"3224"},{"t":350,"s":18,"c":"3224"},{"t":360,"s":21,"c":"3224"},{"t":370,"s":19,"c":"3224"},{"t":380,"s":17,"c":"3224"},{"t":390,"s":20,"c":"3224"},{"t":400,"s":19,"c":"3224"},{"t":410,"s":21,"c":"3224"},{"t":420,"s":18,"c":"3224"},{"t":430,"s":20,"c":"3224"},{"t":440,"s":19,"c":"3224"},{"t":450,"s":17,"c":"3224"},{"t":460,"s":20,"c":"3224"},{"t":470,"s":18,"c":"3224"},{"t":480,"s":21,"c":"3224"},{"t":490,"s":19,"c":"3224"},{"t":500,"s":17,"c":"3224"},{"t":510,"s":20,"c":"3224"},{"t":520,"s":18,"c":"3224"},{"t":530,"s":20,"c":"3224"},{"t":540,"s":17,"c":"3224"},{"t":550,"s":19,"c":"3224"},{"t":560,"s":18,"c":"3224"},{"t":570,"s":20,"c":"3224"},{"t":580,"s":17,"c":"3224"},{"t":585,"s":15,"c":"3224"},{"t":590,"s":19,"c":"3224"},{"t":595,"s":21,"c":"3224"},{"t":600,"s":16,"c":"3224"},
{"t":21,"s":36,"c":"3224"},{"t":25,"s":31,"c":"3224"},{"t":29,"s":34,"c":"3224"},{"t":33,"s":29,"c":"3224"},{"t":37,"s":32,"c":"3224"},{"t":41,"s":27,"c":"3224"},{"t":45,"s":31,"c":"3224"},{"t":49,"s":26,"c":"3224"},{"t":53,"s":29,"c":"3224"},{"t":57,"s":25,"c":"3224"},{"t":61,"s":28,"c":"3224"},{"t":65,"s":24,"c":"3224"},{"t":69,"s":27,"c":"3224"},{"t":73,"s":23,"c":"3224"},{"t":77,"s":27,"c":"3224"},{"t":81,"s":23,"c":"3224"},{"t":85,"s":26,"c":"3224"},{"t":89,"s":22,"c":"3224"},{"t":93,"s":26,"c":"3224"},{"t":97,"s":22,"c":"3224"},{"t":104,"s":25,"c":"3224"},{"t":114,"s":21,"c":"3224"},{"t":124,"s":23,"c":"3224"},{"t":134,"s":20,"c":"3224"},{"t":144,"s":23,"c":"3224"},{"t":154,"s":20,"c":"3224"},{"t":164,"s":22,"c":"3224"},{"t":174,"s":19,"c":"3224"},{"t":184,"s":22,"c":"3224"},{"t":194,"s":19,"c":"3224"},{"t":204,"s":22,"c":"3224"},{"t":214,"s":18,"c":"3224"},{"t":224,"s":21,"c":"3224"},{"t":234,"s":18,"c":"3224"},{"t":244,"s":21,"c":"3224"},{"t":254,"s":18,"c":"3224"},{"t":264,"s":20,"c":"3224"},{"t":274,"s":18,"c":"3224"},{"t":284,"s":21,"c":"3224"},{"t":294,"s":17,"c":"3224"},{"t":304,"s":21,"c":"3224"},{"t":314,"s":18,"c":"3224"},{"t":324,"s":20,"c":"3224"},{"t":334,"s":17,"c":"3224"},{"t":344,"s":21,"c":"3224"},{"t":354,"s":18,"c":"3224"},{"t":364,"s":20,"c":"3224"},{"t":374,"s":17,"c":"3224"},{"t":384,"s":20,"c":"3224"},{"t":394,"s":18,"c":"3224"},{"t":404,"s":21,"c":"3224"},{"t":414,"s":17,"c":"3224"},{"t":424,"s":20,"c":"3224"},{"t":434,"s":17,"c":"3224"},{"t":444,"s":20,"c":"3224"},{"t":454,"s":18,"c":"3224"},{"t":464,"s":16,"c":"3224"},{"t":474,"s":19,"c":"3224"},{"t":484,"s":17,"c":"3224"},{"t":494,"s":20,"c":"3224"},{"t":504,"s":17,"c":"3224"},{"t":514,"s":19,"c":"3224"},{"t":524,"s":16,"c":"3224"},{"t":534,"s":19,"c":"3224"},{"t":544,"s":17,"c":"3224"},{"t":554,"s":20,"c":"3224"},{"t":564,"s":16,"c":"3224"},{"t":574,"s":19,"c":"3224"},{"t":584,"s":17,"c":"3224"},{"t":594,"s":18,"c":"3224"}
],
"c": [
{"n":1,"s":140,"sp":"SBAP7","seg":"begin"},{"n":5,"s":99,"sp":"SBAP7","seg":"begin"},{"n":20,"s":97,"sp":"SBAP7","seg":"begin"},{"n":40,"s":91,"sp":"SBAP7","seg":"begin"},{"n":60,"s":95,"sp":"SBAP7","seg":"begin"},{"n":80,"s":87,"sp":"SBAP7","seg":"begin"},{"n":100,"s":93,"sp":"SBAP7","seg":"begin"},{"n":120,"s":86,"sp":"SBAP7","seg":"begin"},{"n":140,"s":92,"sp":"SBAP7","seg":"begin"},{"n":160,"s":85,"sp":"SBAP7","seg":"begin"},{"n":180,"s":90,"sp":"SBAP7","seg":"begin"},{"n":200,"s":84,"sp":"SBAP7","seg":"begin"},{"n":220,"s":89,"sp":"SBAP7","seg":"begin"},{"n":240,"s":83,"sp":"SBAP7","seg":"begin"},{"n":260,"s":88,"sp":"SBAP7","seg":"begin"},{"n":280,"s":82,"sp":"SBAP7","seg":"begin"},{"n":300,"s":87,"sp":"SBAP7","seg":"begin"},{"n":320,"s":81,"sp":"SBAP7","seg":"begin"},{"n":340,"s":86,"sp":"SBAP7","seg":"begin"},{"n":360,"s":80,"sp":"SBAP7","seg":"begin"},{"n":380,"s":85,"sp":"SBAP7","seg":"begin"},{"n":400,"s":80,"sp":"SBAP7","seg":"begin"},{"n":420,"s":84,"sp":"SBAP7","seg":"begin"},{"n":440,"s":79,"sp":"SBAP7","seg":"begin"},{"n":460,"s":83,"sp":"SBAP7","seg":"begin"},{"n":480,"s":78,"sp":"SBAP7","seg":"begin"},{"n":500,"s":82,"sp":"SBAP7","seg":"begin"},{"n":520,"s":77,"sp":"SBAP7","seg":"begin"},{"n":540,"s":82,"sp":"SBAP7","seg":"begin"},{"n":560,"s":76,"sp":"SBAP7","seg":"begin"},{"n":580,"s":73,"sp":"SBAP7","seg":"begin"},{"n":600,"s":80,"sp":"SBAP7","seg":"begin"},{"n":620,"s":76,"sp":"SBAP7","seg":"begin"},{"n":640,"s":81,"sp":"SBAP7","seg":"begin"},{"n":660,"s":75,"sp":"SBAP7","seg":"begin"},{"n":680,"s":73,"sp":"SBAP7","seg":"begin"},{"n":700,"s":79,"sp":"SBAP7","seg":"begin"},{"n":720,"s":75,"sp":"SBAP7","seg":"begin"},{"n":740,"s":80,"sp":"SBAP7","seg":"begin"},{"n":760,"s":74,"sp":"SBAP7","seg":"begin"},{"n":780,"s":78,"sp":"SBAP7","seg":"begin"},{"n":800,"s":74,"sp":"SBAP7","seg":"begin"},{"n":820,"s":79,"sp":"SBAP7","seg":"begin"},{"n":840,"s":73,"sp":"SBAP7","seg":"begin"},{"n":860,"s":78,"sp":"SBAP7","seg":"begin"},{"n":880,"s":74,"sp":"SBAP7","seg":"begin"},{"n":900,"s":83,"sp":"SBAP7","seg":"begin"},{"n":920,"s":73,"sp":"SBAP7","seg":"begin"},{"n":940,"s":77,"sp":"SBAP7","seg":"begin"},{"n":960,"s":72,"sp":"SBAP7","seg":"begin"},{"n":980,"s":78,"sp":"SBAP7","seg":"begin"},{"n":1000,"s":73,"sp":"SBAP7","seg":"begin"},{"n":1040,"s":77,"sp":"SBAP7","seg":"begin"},{"n":1080,"s":72,"sp":"SBAP7","seg":"begin"},{"n":1120,"s":76,"sp":"SBAP7","seg":"begin"},{"n":1160,"s":71,"sp":"SBAP7","seg":"begin"},{"n":1200,"s":76,"sp":"SBAP7","seg":"begin"},{"n":1240,"s":72,"sp":"SBAP7","seg":"begin"},{"n":1280,"s":75,"sp":"SBAP7","seg":"begin"},{"n":1320,"s":70,"sp":"SBAP7","seg":"begin"},{"n":1360,"s":74,"sp":"SBAP7","seg":"begin"},{"n":1400,"s":70,"sp":"SBAP7","seg":"begin"},{"n":1440,"s":74,"sp":"SBAP7","seg":"begin"},{"n":1480,"s":78,"sp":"SBAP7","seg":"begin"},{"n":1520,"s":72,"sp":"SBAP7","seg":"begin"},{"n":1560,"s":69,"sp":"SBAP7","seg":"begin"},{"n":1600,"s":73,"sp":"SBAP7","seg":"begin"},{"n":1640,"s":69,"sp":"SBAP7","seg":"begin"},{"n":1680,"s":73,"sp":"SBAP7","seg":"begin"},{"n":1720,"s":68,"sp":"SBAP7","seg":"begin"},{"n":1760,"s":72,"sp":"SBAP7","seg":"begin"},{"n":1800,"s":68,"sp":"SBAP7","seg":"begin"},{"n":1840,"s":72,"sp":"SBAP7","seg":"begin"},{"n":1880,"s":67,"sp":"SBAP7","seg":"begin"},{"n":1920,"s":71,"sp":"SBAP7","seg":"begin"},{"n":1960,"s":67,"sp":"SBAP7","seg":"begin"},{"n":2000,"s":71,"sp":"SBAP7","seg":"begin"},{"n":2040,"s":66,"sp":"SBAP7","seg":"begin"},{"n":2080,"s":70,"sp":"SBAP7","seg":"begin"},{"n":2120,"s":66,"sp":"SBAP7","seg":"begin"},{"n":2160,"s":70,"sp":"SBAP7","seg":"begin"},{"n":2200,"s":65,"sp":"SBAP7","seg":"begin"},{"n":2240,"s":69,"sp":"SBAP7","seg":"begin"},{"n":2280,"s":65,"sp":"SBAP7","seg":"begin"},{"n":2320,"s":69,"sp":"SBAP7","seg":"begin"},{"n":2360,"s":64,"sp":"SBAP7","seg":"begin"},{"n":2400,"s":68,"sp":"SBAP7","seg":"begin"},{"n":2440,"s":64,"sp":"SBAP7","seg":"begin"},{"n":2480,"s":68,"sp":"SBAP7","seg":"begin"},{"n":2520,"s":65,"sp":"SBAP7","seg":"begin"},{"n":2560,"s":67,"sp":"SBAP7","seg":"begin"},{"n":2600,"s":64,"sp":"SBAP7","seg":"begin"},{"n":2640,"s":68,"sp":"SBAP7","seg":"begin"},{"n":2680,"s":63,"sp":"SBAP7","seg":"begin"},{"n":2720,"s":67,"sp":"SBAP7","seg":"begin"},{"n":2760,"s":64,"sp":"SBAP7","seg":"begin"},{"n":2800,"s":67,"sp":"SBAP7","seg":"begin"},{"n":2840,"s":63,"sp":"SBAP7","seg":"begin"},{"n":2880,"s":66,"sp":"SBAP7","seg":"begin"},{"n":2920,"s":64,"sp":"SBAP7","seg":"begin"},{"n":2960,"s":67,"sp":"SBAP7","seg":"begin"},{"n":3000,"s":63,"sp":"SBAP7","seg":"begin"},{"n":3040,"s":66,"sp":"SBAP7","seg":"begin"},{"n":3080,"s":64,"sp":"SBAP7","seg":"begin"},{"n":3120,"s":68,"sp":"SBAP7","seg":"begin"},{"n":3160,"s":66,"sp":"SBAP7","seg":"begin"},{"n":3200,"s":70,"sp":"SBAP7","seg":"begin"},{"n":3220,"s":72,"sp":"SBAP7","seg":"begin"},{"n":3235,"s":76,"sp":"SBAP7","seg":"begin"},{"n":3240,"s":80,"sp":"SBAP7","seg":"begin"},{"n":3242,"s":86,"sp":"SBAP7","seg":"begin"},{"n":3244,"s":91,"sp":"SBAP7","seg":"begin"},{"n":3246,"s":99,"sp":"SBAP7","seg":"begin"},{"n":3248,"s":105,"sp":"SBAP7","seg":"begin"},{"n":3250,"s":114,"sp":"SBAP7","seg":"begin"},{"n":3252,"s":116,"sp":"SBAP7","seg":"begin"},
{"n":30,"s":93,"sp":"SBAP7","seg":"begin"},{"n":70,"s":90,"sp":"SBAP7","seg":"begin"},{"n":110,"s":88,"sp":"SBAP7","seg":"begin"},{"n":150,"s":89,"sp":"SBAP7","seg":"begin"},{"n":190,"s":86,"sp":"SBAP7","seg":"begin"},{"n":230,"s":87,"sp":"SBAP7","seg":"begin"},{"n":270,"s":84,"sp":"SBAP7","seg":"begin"},{"n":310,"s":85,"sp":"SBAP7","seg":"begin"},{"n":350,"s":83,"sp":"SBAP7","seg":"begin"},{"n":390,"s":82,"sp":"SBAP7","seg":"begin"},{"n":430,"s":82,"sp":"SBAP7","seg":"begin"},{"n":470,"s":80,"sp":"SBAP7","seg":"begin"},{"n":510,"s":81,"sp":"SBAP7","seg":"begin"},{"n":550,"s":79,"sp":"SBAP7","seg":"begin"},{"n":590,"s":78,"sp":"SBAP7","seg":"begin"},{"n":630,"s":79,"sp":"SBAP7","seg":"begin"},{"n":670,"s":77,"sp":"SBAP7","seg":"begin"},{"n":710,"s":78,"sp":"SBAP7","seg":"begin"},{"n":750,"s":76,"sp":"SBAP7","seg":"begin"},{"n":790,"s":77,"sp":"SBAP7","seg":"begin"},{"n":830,"s":75,"sp":"SBAP7","seg":"begin"},{"n":870,"s":76,"sp":"SBAP7","seg":"begin"},{"n":910,"s":75,"sp":"SBAP7","seg":"begin"},{"n":950,"s":76,"sp":"SBAP7","seg":"begin"},{"n":990,"s":74,"sp":"SBAP7","seg":"begin"},{"n":1030,"s":75,"sp":"SBAP7","seg":"begin"},{"n":1070,"s":74,"sp":"SBAP7","seg":"begin"},{"n":1110,"s":73,"sp":"SBAP7","seg":"begin"},{"n":1150,"s":74,"sp":"SBAP7","seg":"begin"},{"n":1190,"s":72,"sp":"SBAP7","seg":"begin"},{"n":1230,"s":74,"sp":"SBAP7","seg":"begin"},{"n":1270,"s":73,"sp":"SBAP7","seg":"begin"},{"n":1310,"s":72,"sp":"SBAP7","seg":"begin"},{"n":1350,"s":73,"sp":"SBAP7","seg":"begin"},{"n":1390,"s":71,"sp":"SBAP7","seg":"begin"},{"n":1430,"s":72,"sp":"SBAP7","seg":"begin"},{"n":1470,"s":71,"sp":"SBAP7","seg":"begin"},{"n":1510,"s":73,"sp":"SBAP7","seg":"begin"},{"n":1550,"s":71,"sp":"SBAP7","seg":"begin"},{"n":1590,"s":70,"sp":"SBAP7","seg":"begin"},{"n":1630,"s":71,"sp":"SBAP7","seg":"begin"},{"n":1670,"s":70,"sp":"SBAP7","seg":"begin"},{"n":1710,"s":71,"sp":"SBAP7","seg":"begin"},{"n":1750,"s":69,"sp":"SBAP7","seg":"begin"},{"n":1790,"s":70,"sp":"SBAP7","seg":"begin"},{"n":1830,"s":69,"sp":"SBAP7","seg":"begin"},{"n":1870,"s":70,"sp":"SBAP7","seg":"begin"},{"n":1910,"s":68,"sp":"SBAP7","seg":"begin"},{"n":1950,"s":69,"sp":"SBAP7","seg":"begin"},{"n":1990,"s":68,"sp":"SBAP7","seg":"begin"},{"n":2030,"s":69,"sp":"SBAP7","seg":"begin"},{"n":2070,"s":67,"sp":"SBAP7","seg":"begin"},{"n":2110,"s":68,"sp":"SBAP7","seg":"begin"},{"n":2150,"s":67,"sp":"SBAP7","seg":"begin"},{"n":2190,"s":68,"sp":"SBAP7","seg":"begin"},{"n":2230,"s":66,"sp":"SBAP7","seg":"begin"},{"n":2270,"s":67,"sp":"SBAP7","seg":"begin"},{"n":2310,"s":66,"sp":"SBAP7","seg":"begin"},{"n":2350,"s":67,"sp":"SBAP7","seg":"begin"},{"n":2390,"s":65,"sp":"SBAP7","seg":"begin"},{"n":2430,"s":66,"sp":"SBAP7","seg":"begin"},{"n":2470,"s":65,"sp":"SBAP7","seg":"begin"},{"n":2510,"s":67,"sp":"SBAP7","seg":"begin"},{"n":2550,"s":65,"sp":"SBAP7","seg":"begin"},{"n":2590,"s":66,"sp":"SBAP7","seg":"begin"},{"n":2630,"s":65,"sp":"SBAP7","seg":"begin"},{"n":2670,"s":66,"sp":"SBAP7","seg":"begin"},{"n":2710,"s":64,"sp":"SBAP7","seg":"begin"},{"n":2750,"s":66,"sp":"SBAP7","seg":"begin"},{"n":2790,"s":65,"sp":"SBAP7","seg":"begin"},{"n":2830,"s":66,"sp":"SBAP7","seg":"begin"},{"n":2870,"s":64,"sp":"SBAP7","seg":"begin"},{"n":2910,"s":65,"sp":"SBAP7","seg":"begin"},{"n":2950,"s":64,"sp":"SBAP7","seg":"begin"},{"n":2990,"s":66,"sp":"SBAP7","seg":"begin"},{"n":3030,"s":64,"sp":"SBAP7","seg":"begin"},{"n":3070,"s":66,"sp":"SBAP7","seg":"begin"},{"n":3110,"s":65,"sp":"SBAP7","seg":"begin"},{"n":3150,"s":67,"sp":"SBAP7","seg":"begin"},{"n":3190,"s":68,"sp":"SBAP7","seg":"begin"},
{"n":1,"s":40,"sp":"SBAP7","seg":"end"},{"n":5,"s":37,"sp":"SBAP7","seg":"end"},{"n":10,"s":34,"sp":"SBAP7","seg":"end"},{"n":20,"s":32,"sp":"SBAP7","seg":"end"},{"n":40,"s":30,"sp":"SBAP7","seg":"end"},{"n":60,"s":31,"sp":"SBAP7","seg":"end"},{"n":80,"s":29,"sp":"SBAP7","seg":"end"},{"n":100,"s":30,"sp":"SBAP7","seg":"end"},{"n":140,"s":28,"sp":"SBAP7","seg":"end"},{"n":180,"s":30,"sp":"SBAP7","seg":"end"},{"n":220,"s":28,"sp":"SBAP7","seg":"end"},{"n":260,"s":29,"sp":"SBAP7","seg":"end"},{"n":300,"s":27,"sp":"SBAP7","seg":"end"},{"n":340,"s":29,"sp":"SBAP7","seg":"end"},{"n":380,"s":27,"sp":"SBAP7","seg":"end"},{"n":420,"s":28,"sp":"SBAP7","seg":"end"},{"n":460,"s":26,"sp":"SBAP7","seg":"end"},{"n":500,"s":28,"sp":"SBAP7","seg":"end"},{"n":540,"s":26,"sp":"SBAP7","seg":"end"},{"n":580,"s":28,"sp":"SBAP7","seg":"end"},{"n":620,"s":26,"sp":"SBAP7","seg":"end"},{"n":660,"s":28,"sp":"SBAP7","seg":"end"},{"n":700,"s":26,"sp":"SBAP7","seg":"end"},{"n":740,"s":27,"sp":"SBAP7","seg":"end"},{"n":780,"s":25,"sp":"SBAP7","seg":"end"},{"n":820,"s":27,"sp":"SBAP7","seg":"end"},{"n":860,"s":25,"sp":"SBAP7","seg":"end"},{"n":900,"s":27,"sp":"SBAP7","seg":"end"},{"n":940,"s":25,"sp":"SBAP7","seg":"end"},{"n":980,"s":26,"sp":"SBAP7","seg":"end"},{"n":1020,"s":24,"sp":"SBAP7","seg":"end"},{"n":1060,"s":26,"sp":"SBAP7","seg":"end"},{"n":1100,"s":24,"sp":"SBAP7","seg":"end"},{"n":1140,"s":26,"sp":"SBAP7","seg":"end"},{"n":1180,"s":24,"sp":"SBAP7","seg":"end"},{"n":1220,"s":25,"sp":"SBAP7","seg":"end"},{"n":1260,"s":23,"sp":"SBAP7","seg":"end"},{"n":1300,"s":25,"sp":"SBAP7","seg":"end"},{"n":1340,"s":23,"sp":"SBAP7","seg":"end"},{"n":1380,"s":24,"sp":"SBAP7","seg":"end"},{"n":1420,"s":22,"sp":"SBAP7","seg":"end"},{"n":1460,"s":24,"sp":"SBAP7","seg":"end"},{"n":1500,"s":22,"sp":"SBAP7","seg":"end"},{"n":1540,"s":23,"sp":"SBAP7","seg":"end"},{"n":1580,"s":21,"sp":"SBAP7","seg":"end"},{"n":1620,"s":23,"sp":"SBAP7","seg":"end"},{"n":1660,"s":21,"sp":"SBAP7","seg":"end"},{"n":1700,"s":22,"sp":"SBAP7","seg":"end"},{"n":1740,"s":20,"sp":"SBAP7","seg":"end"},{"n":1780,"s":22,"sp":"SBAP7","seg":"end"},{"n":1820,"s":20,"sp":"SBAP7","seg":"end"},{"n":1860,"s":21,"sp":"SBAP7","seg":"end"},{"n":1900,"s":19,"sp":"SBAP7","seg":"end"},{"n":1940,"s":21,"sp":"SBAP7","seg":"end"},{"n":1980,"s":19,"sp":"SBAP7","seg":"end"},{"n":2020,"s":20,"sp":"SBAP7","seg":"end"},{"n":2060,"s":18,"sp":"SBAP7","seg":"end"},{"n":2100,"s":20,"sp":"SBAP7","seg":"end"},{"n":2140,"s":18,"sp":"SBAP7","seg":"end"},{"n":2180,"s":19,"sp":"SBAP7","seg":"end"},{"n":2220,"s":17,"sp":"SBAP7","seg":"end"},{"n":2260,"s":19,"sp":"SBAP7","seg":"end"},{"n":2300,"s":17,"sp":"SBAP7","seg":"end"},{"n":2340,"s":18,"sp":"SBAP7","seg":"end"},{"n":2380,"s":16,"sp":"SBAP7","seg":"end"},{"n":2420,"s":18,"sp":"SBAP7","seg":"end"},{"n":2460,"s":16,"sp":"SBAP7","seg":"end"},{"n":2500,"s":17,"sp":"SBAP7","seg":"end"},{"n":2540,"s":15,"sp":"SBAP7","seg":"end"},{"n":2580,"s":17,"sp":"SBAP7","seg":"end"},{"n":2620,"s":15,"sp":"SBAP7","seg":"end"},{"n":2660,"s":17,"sp":"SBAP7","seg":"end"},{"n":2700,"s":15,"sp":"SBAP7","seg":"end"},{"n":2740,"s":16,"sp":"SBAP7","seg":"end"},{"n":2780,"s":14,"sp":"SBAP7","seg":"end"},{"n":2820,"s":16,"sp":"SBAP7","seg":"end"},{"n":2860,"s":14,"sp":"SBAP7","seg":"end"},{"n":2900,"s":16,"sp":"SBAP7","seg":"end"},{"n":2940,"s":14,"sp":"SBAP7","seg":"end"},{"n":2980,"s":16,"sp":"SBAP7","seg":"end"},{"n":3020,"s":14,"sp":"SBAP7","seg":"end"},{"n":3060,"s":16,"sp":"SBAP7","seg":"end"},{"n":3100,"s":14,"sp":"SBAP7","seg":"end"},{"n":3140,"s":15,"sp":"SBAP7","seg":"end"},{"n":3180,"s":17,"sp":"SBAP7","seg":"end"},{"n":3210,"s":18,"sp":"SBAP7","seg":"end"},{"n":3225,"s":20,"sp":"SBAP7","seg":"end"},{"n":3240,"s":3,"sp":"SBAP7","seg":"end"},{"n":3242,"s":17,"sp":"SBAP7","seg":"end"},{"n":3244,"s":22,"sp":"SBAP7","seg":"end"},{"n":3246,"s":33,"sp":"SBAP7","seg":"end"},
{"n":30,"s":31,"sp":"SBAP7","seg":"end"},{"n":70,"s":29,"sp":"SBAP7","seg":"end"},{"n":110,"s":31,"sp":"SBAP7","seg":"end"},{"n":150,"s":29,"sp":"SBAP7","seg":"end"},{"n":190,"s":28,"sp":"SBAP7","seg":"end"},{"n":230,"s":30,"sp":"SBAP7","seg":"end"},{"n":270,"s":27,"sp":"SBAP7","seg":"end"},{"n":310,"s":29,"sp":"SBAP7","seg":"end"},{"n":350,"s":28,"sp":"SBAP7","seg":"end"},{"n":390,"s":26,"sp":"SBAP7","seg":"end"},{"n":430,"s":28,"sp":"SBAP7","seg":"end"},{"n":470,"s":27,"sp":"SBAP7","seg":"end"},{"n":510,"s":26,"sp":"SBAP7","seg":"end"},{"n":550,"s":28,"sp":"SBAP7","seg":"end"},{"n":590,"s":27,"sp":"SBAP7","seg":"end"},{"n":630,"s":25,"sp":"SBAP7","seg":"end"},{"n":670,"s":27,"sp":"SBAP7","seg":"end"},{"n":710,"s":25,"sp":"SBAP7","seg":"end"},{"n":750,"s":26,"sp":"SBAP7","seg":"end"},{"n":790,"s":27,"sp":"SBAP7","seg":"end"},{"n":830,"s":25,"sp":"SBAP7","seg":"end"},{"n":870,"s":26,"sp":"SBAP7","seg":"end"},{"n":910,"s":24,"sp":"SBAP7","seg":"end"},{"n":950,"s":26,"sp":"SBAP7","seg":"end"},{"n":990,"s":25,"sp":"SBAP7","seg":"end"},{"n":1030,"s":26,"sp":"SBAP7","seg":"end"},{"n":1070,"s":24,"sp":"SBAP7","seg":"end"},{"n":1110,"s":25,"sp":"SBAP7","seg":"end"},{"n":1150,"s":23,"sp":"SBAP7","seg":"end"},{"n":1190,"s":25,"sp":"SBAP7","seg":"end"},{"n":1230,"s":24,"sp":"SBAP7","seg":"end"},{"n":1270,"s":24,"sp":"SBAP7","seg":"end"},{"n":1310,"s":23,"sp":"SBAP7","seg":"end"},{"n":1350,"s":24,"sp":"SBAP7","seg":"end"},{"n":1390,"s":23,"sp":"SBAP7","seg":"end"},{"n":1430,"s":23,"sp":"SBAP7","seg":"end"},{"n":1470,"s":22,"sp":"SBAP7","seg":"end"},{"n":1510,"s":23,"sp":"SBAP7","seg":"end"},{"n":1550,"s":22,"sp":"SBAP7","seg":"end"},{"n":1590,"s":22,"sp":"SBAP7","seg":"end"},{"n":1630,"s":21,"sp":"SBAP7","seg":"end"},{"n":1670,"s":22,"sp":"SBAP7","seg":"end"},{"n":1710,"s":21,"sp":"SBAP7","seg":"end"},{"n":1750,"s":21,"sp":"SBAP7","seg":"end"},{"n":1790,"s":20,"sp":"SBAP7","seg":"end"},{"n":1830,"s":21,"sp":"SBAP7","seg":"end"},{"n":1870,"s":20,"sp":"SBAP7","seg":"end"},{"n":1910,"s":20,"sp":"SBAP7","seg":"end"},{"n":1950,"s":19,"sp":"SBAP7","seg":"end"},{"n":1990,"s":20,"sp":"SBAP7","seg":"end"},{"n":2030,"s":19,"sp":"SBAP7","seg":"end"},{"n":2070,"s":19,"sp":"SBAP7","seg":"end"},{"n":2110,"s":18,"sp":"SBAP7","seg":"end"},{"n":2150,"s":19,"sp":"SBAP7","seg":"end"},{"n":2190,"s":18,"sp":"SBAP7","seg":"end"},{"n":2230,"s":18,"sp":"SBAP7","seg":"end"},{"n":2270,"s":17,"sp":"SBAP7","seg":"end"},{"n":2310,"s":18,"sp":"SBAP7","seg":"end"},{"n":2350,"s":17,"sp":"SBAP7","seg":"end"},{"n":2390,"s":17,"sp":"SBAP7","seg":"end"},{"n":2430,"s":16,"sp":"SBAP7","seg":"end"},{"n":2470,"s":17,"sp":"SBAP7","seg":"end"},{"n":2510,"s":16,"sp":"SBAP7","seg":"end"},{"n":2550,"s":16,"sp":"SBAP7","seg":"end"},{"n":2590,"s":15,"sp":"SBAP7","seg":"end"},{"n":2630,"s":16,"sp":"SBAP7","seg":"end"},{"n":2670,"s":15,"sp":"SBAP7","seg":"end"},{"n":2710,"s":16,"sp":"SBAP7","seg":"end"},{"n":2750,"s":15,"sp":"SBAP7","seg":"end"},{"n":2790,"s":15,"sp":"SBAP7","seg":"end"},{"n":2830,"s":14,"sp":"SBAP7","seg":"end"},{"n":2870,"s":15,"sp":"SBAP7","seg":"end"},{"n":2910,"s":14,"sp":"SBAP7","seg":"end"},{"n":2950,"s":15,"sp":"SBAP7","seg":"end"},{"n":2990,"s":14,"sp":"SBAP7","seg":"end"},{"n":3030,"s":15,"sp":"SBAP7","seg":"end"},{"n":3070,"s":14,"sp":"SBAP7","seg":"end"},{"n":3110,"s":15,"sp":"SBAP7","seg":"end"},{"n":3150,"s":15,"sp":"SBAP7","seg":"end"},{"n":3190,"s":17,"sp":"SBAP7","seg":"end"},
{"n":1,"s":147,"sp":"SBAP9","seg":"begin"},{"n":5,"s":104,"sp":"SBAP9","seg":"begin"},{"n":15,"s":101,"sp":"SBAP9","seg":"begin"},{"n":30,"s":103,"sp":"SBAP9","seg":"begin"},{"n":45,"s":99,"sp":"SBAP9","seg":"begin"},{"n":60,"s":102,"sp":"SBAP9","seg":"begin"},{"n":80,"s":98,"sp":"SBAP9","seg":"begin"},{"n":100,"s":101,"sp":"SBAP9","seg":"begin"},{"n":120,"s":97,"sp":"SBAP9","seg":"begin"},{"n":140,"s":100,"sp":"SBAP9","seg":"begin"},{"n":160,"s":96,"sp":"SBAP9","seg":"begin"},{"n":180,"s":99,"sp":"SBAP9","seg":"begin"},{"n":200,"s":95,"sp":"SBAP9","seg":"begin"},{"n":220,"s":98,"sp":"SBAP9","seg":"begin"},{"n":240,"s":94,"sp":"SBAP9","seg":"begin"},{"n":260,"s":97,"sp":"SBAP9","seg":"begin"},{"n":280,"s":93,"sp":"SBAP9","seg":"begin"},{"n":300,"s":96,"sp":"SBAP9","seg":"begin"},{"n":320,"s":92,"sp":"SBAP9","seg":"begin"},{"n":340,"s":95,"sp":"SBAP9","seg":"begin"},{"n":360,"s":91,"sp":"SBAP9","seg":"begin"},{"n":380,"s":94,"sp":"SBAP9","seg":"begin"},{"n":400,"s":90,"sp":"SBAP9","seg":"begin"},{"n":420,"s":95,"sp":"SBAP9","seg":"begin"},{"n":440,"s":91,"sp":"SBAP9","seg":"begin"},{"n":460,"s":93,"sp":"SBAP9","seg":"begin"},{"n":480,"s":89,"sp":"SBAP9","seg":"begin"},{"n":500,"s":94,"sp":"SBAP9","seg":"begin"},{"n":520,"s":90,"sp":"SBAP9","seg":"begin"},{"n":540,"s":92,"sp":"SBAP9","seg":"begin"},{"n":560,"s":88,"sp":"SBAP9","seg":"begin"},{"n":580,"s":93,"sp":"SBAP9","seg":"begin"},{"n":600,"s":89,"sp":"SBAP9","seg":"begin"},{"n":620,"s":92,"sp":"SBAP9","seg":"begin"},{"n":640,"s":87,"sp":"SBAP9","seg":"begin"},{"n":660,"s":91,"sp":"SBAP9","seg":"begin"},{"n":680,"s":88,"sp":"SBAP9","seg":"begin"},{"n":700,"s":93,"sp":"SBAP9","seg":"begin"},{"n":720,"s":89,"sp":"SBAP9","seg":"begin"},{"n":740,"s":91,"sp":"SBAP9","seg":"begin"},{"n":760,"s":87,"sp":"SBAP9","seg":"begin"},{"n":780,"s":92,"sp":"SBAP9","seg":"begin"},{"n":800,"s":88,"sp":"SBAP9","seg":"begin"},{"n":820,"s":90,"sp":"SBAP9","seg":"begin"},{"n":840,"s":87,"sp":"SBAP9","seg":"begin"},{"n":860,"s":92,"sp":"SBAP9","seg":"begin"},{"n":880,"s":89,"sp":"SBAP9","seg":"begin"},{"n":900,"s":91,"sp":"SBAP9","seg":"begin"},{"n":920,"s":88,"sp":"SBAP9","seg":"begin"},{"n":940,"s":93,"sp":"SBAP9","seg":"begin"},{"n":960,"s":90,"sp":"SBAP9","seg":"begin"},{"n":980,"s":92,"sp":"SBAP9","seg":"begin"},{"n":990,"s":96,"sp":"SBAP9","seg":"begin"},{"n":995,"s":98,"sp":"SBAP9","seg":"begin"},{"n":1000,"s":94,"sp":"SBAP9","seg":"begin"},{"n":1003,"s":88,"sp":"SBAP9","seg":"begin"},{"n":1005,"s":72,"sp":"SBAP9","seg":"begin"},{"n":1008,"s":65,"sp":"SBAP9","seg":"begin"},{"n":1010,"s":60,"sp":"SBAP9","seg":"begin"},{"n":1012,"s":57,"sp":"SBAP9","seg":"begin"},{"n":1015,"s":53,"sp":"SBAP9","seg":"begin"},{"n":1018,"s":49,"sp":"SBAP9","seg":"begin"},{"n":1020,"s":45,"sp":"SBAP9","seg":"begin"},{"n":1022,"s":42,"sp":"SBAP9","seg":"begin"},{"n":1025,"s":38,"sp":"SBAP9","seg":"begin"},{"n":1028,"s":35,"sp":"SBAP9","seg":"begin"},{"n":1030,"s":31,"sp":"SBAP9","seg":"begin"},{"n":1032,"s":40,"sp":"SBAP9","seg":"begin"},
{"n":1,"s":30,"sp":"SBAP9","seg":"end"},{"n":5,"s":27,"sp":"SBAP9","seg":"end"},{"n":20,"s":25,"sp":"SBAP9","seg":"end"},{"n":40,"s":23,"sp":"SBAP9","seg":"end"},{"n":60,"s":24,"sp":"SBAP9","seg":"end"},{"n":80,"s":21,"sp":"SBAP9","seg":"end"},{"n":100,"s":23,"sp":"SBAP9","seg":"end"},{"n":130,"s":20,"sp":"SBAP9","seg":"end"},{"n":160,"s":22,"sp":"SBAP9","seg":"end"},{"n":190,"s":19,"sp":"SBAP9","seg":"end"},{"n":220,"s":22,"sp":"SBAP9","seg":"end"},{"n":250,"s":20,"sp":"SBAP9","seg":"end"},{"n":280,"s":18,"sp":"SBAP9","seg":"end"},{"n":310,"s":21,"sp":"SBAP9","seg":"end"},{"n":340,"s":19,"sp":"SBAP9","seg":"end"},{"n":370,"s":22,"sp":"SBAP9","seg":"end"},{"n":400,"s":17,"sp":"SBAP9","seg":"end"},{"n":430,"s":20,"sp":"SBAP9","seg":"end"},{"n":460,"s":18,"sp":"SBAP9","seg":"end"},{"n":490,"s":15,"sp":"SBAP9","seg":"end"},{"n":520,"s":19,"sp":"SBAP9","seg":"end"},{"n":550,"s":17,"sp":"SBAP9","seg":"end"},{"n":580,"s":20,"sp":"SBAP9","seg":"end"},{"n":610,"s":18,"sp":"SBAP9","seg":"end"},{"n":640,"s":21,"sp":"SBAP9","seg":"end"},{"n":670,"s":19,"sp":"SBAP9","seg":"end"},{"n":700,"s":17,"sp":"SBAP9","seg":"end"},{"n":730,"s":20,"sp":"SBAP9","seg":"end"},{"n":760,"s":18,"sp":"SBAP9","seg":"end"},{"n":790,"s":20,"sp":"SBAP9","seg":"end"},{"n":820,"s":17,"sp":"SBAP9","seg":"end"},{"n":850,"s":19,"sp":"SBAP9","seg":"end"},{"n":880,"s":18,"sp":"SBAP9","seg":"end"},{"n":910,"s":20,"sp":"SBAP9","seg":"end"},{"n":940,"s":18,"sp":"SBAP9","seg":"end"},{"n":970,"s":19,"sp":"SBAP9","seg":"end"},{"n":990,"s":20,"sp":"SBAP9","seg":"end"},{"n":1000,"s":15,"sp":"SBAP9","seg":"end"},{"n":1005,"s":10,"sp":"SBAP9","seg":"end"},{"n":1008,"s":7,"sp":"SBAP9","seg":"end"},{"n":1010,"s":4,"sp":"SBAP9","seg":"end"},{"n":1015,"s":2,"sp":"SBAP9","seg":"end"},{"n":1020,"s":0.5,"sp":"SBAP9","seg":"end"},{"n":1025,"s":0,"sp":"SBAP9","seg":"end"}
],
"d": [
{"n":1,"e":0.155,"sp":"SBAP7"},{"n":10,"e":0.16,"sp":"SBAP7"},{"n":20,"e":0.19,"sp":"SBAP7"},{"n":40,"e":0.175,"sp":"SBAP7"},{"n":60,"e":0.198,"sp":"SBAP7"},{"n":80,"e":0.172,"sp":"SBAP7"},{"n":100,"e":0.195,"sp":"SBAP7"},{"n":120,"e":0.178,"sp":"SBAP7"},{"n":140,"e":0.2,"sp":"SBAP7"},{"n":160,"e":0.17,"sp":"SBAP7"},{"n":180,"e":0.192,"sp":"SBAP7"},{"n":200,"e":0.166,"sp":"SBAP7"},{"n":220,"e":0.196,"sp":"SBAP7"},{"n":240,"e":0.175,"sp":"SBAP7"},{"n":260,"e":0.168,"sp":"SBAP7"},{"n":280,"e":0.198,"sp":"SBAP7"},{"n":300,"e":0.178,"sp":"SBAP7"},{"n":320,"e":0.194,"sp":"SBAP7"},{"n":340,"e":0.172,"sp":"SBAP7"},{"n":360,"e":0.199,"sp":"SBAP7"},{"n":380,"e":0.176,"sp":"SBAP7"},{"n":400,"e":0.193,"sp":"SBAP7"},{"n":420,"e":0.171,"sp":"SBAP7"},{"n":440,"e":0.197,"sp":"SBAP7"},{"n":460,"e":0.178,"sp":"SBAP7"},{"n":480,"e":0.195,"sp":"SBAP7"},{"n":500,"e":0.174,"sp":"SBAP7"},{"n":520,"e":0.199,"sp":"SBAP7"},{"n":540,"e":0.18,"sp":"SBAP7"},{"n":560,"e":0.193,"sp":"SBAP7"},{"n":580,"e":0.173,"sp":"SBAP7"},{"n":600,"e":0.2,"sp":"SBAP7"},{"n":620,"e":0.178,"sp":"SBAP7"},{"n":640,"e":0.196,"sp":"SBAP7"},{"n":660,"e":0.175,"sp":"SBAP7"},{"n":680,"e":0.2,"sp":"SBAP7"},{"n":700,"e":0.179,"sp":"SBAP7"},{"n":720,"e":0.195,"sp":"SBAP7"},{"n":740,"e":0.176,"sp":"SBAP7"},{"n":760,"e":0.201,"sp":"SBAP7"},{"n":780,"e":0.18,"sp":"SBAP7"},{"n":800,"e":0.197,"sp":"SBAP7"},{"n":820,"e":0.177,"sp":"SBAP7"},{"n":840,"e":0.2,"sp":"SBAP7"},{"n":860,"e":0.181,"sp":"SBAP7"},{"n":880,"e":0.196,"sp":"SBAP7"},{"n":900,"e":0.178,"sp":"SBAP7"},{"n":920,"e":0.202,"sp":"SBAP7"},{"n":940,"e":0.18,"sp":"SBAP7"},{"n":960,"e":0.198,"sp":"SBAP7"},{"n":980,"e":0.176,"sp":"SBAP7"},{"n":1000,"e":0.201,"sp":"SBAP7"},{"n":1040,"e":0.182,"sp":"SBAP7"},{"n":1080,"e":0.199,"sp":"SBAP7"},{"n":1120,"e":0.178,"sp":"SBAP7"},{"n":1160,"e":0.203,"sp":"SBAP7"},{"n":1200,"e":0.183,"sp":"SBAP7"},{"n":1240,"e":0.2,"sp":"SBAP7"},{"n":1280,"e":0.18,"sp":"SBAP7"},{"n":1320,"e":0.205,"sp":"SBAP7"},{"n":1360,"e":0.184,"sp":"SBAP7"},{"n":1400,"e":0.209,"sp":"SBAP7"},{"n":1440,"e":0.186,"sp":"SBAP7"},{"n":1480,"e":0.203,"sp":"SBAP7"},{"n":1520,"e":0.185,"sp":"SBAP7"},{"n":1560,"e":0.207,"sp":"SBAP7"},{"n":1600,"e":0.188,"sp":"SBAP7"},{"n":1640,"e":0.204,"sp":"SBAP7"},{"n":1680,"e":0.186,"sp":"SBAP7"},{"n":1720,"e":0.212,"sp":"SBAP7"},{"n":1760,"e":0.19,"sp":"SBAP7"},{"n":1800,"e":0.207,"sp":"SBAP7"},{"n":1840,"e":0.188,"sp":"SBAP7"},{"n":1880,"e":0.21,"sp":"SBAP7"},{"n":1920,"e":0.191,"sp":"SBAP7"},{"n":1960,"e":0.208,"sp":"SBAP7"},{"n":2000,"e":0.192,"sp":"SBAP7"},{"n":2040,"e":0.212,"sp":"SBAP7"},{"n":2080,"e":0.194,"sp":"SBAP7"},{"n":2120,"e":0.21,"sp":"SBAP7"},{"n":2160,"e":0.193,"sp":"SBAP7"},{"n":2200,"e":0.214,"sp":"SBAP7"},{"n":2240,"e":0.196,"sp":"SBAP7"},{"n":2280,"e":0.212,"sp":"SBAP7"},{"n":2320,"e":0.195,"sp":"SBAP7"},{"n":2360,"e":0.218,"sp":"SBAP7"},{"n":2400,"e":0.198,"sp":"SBAP7"},{"n":2440,"e":0.215,"sp":"SBAP7"},{"n":2480,"e":0.197,"sp":"SBAP7"},{"n":2520,"e":0.219,"sp":"SBAP7"},{"n":2560,"e":0.2,"sp":"SBAP7"},{"n":2600,"e":0.216,"sp":"SBAP7"},{"n":2640,"e":0.199,"sp":"SBAP7"},{"n":2680,"e":0.22,"sp":"SBAP7"},{"n":2720,"e":0.201,"sp":"SBAP7"},{"n":2760,"e":0.23,"sp":"SBAP7"},{"n":2800,"e":0.2,"sp":"SBAP7"},{"n":2840,"e":0.221,"sp":"SBAP7"},{"n":2880,"e":0.202,"sp":"SBAP7"},{"n":2920,"e":0.219,"sp":"SBAP7"},{"n":2960,"e":0.2,"sp":"SBAP7"},{"n":3000,"e":0.222,"sp":"SBAP7"},{"n":3040,"e":0.203,"sp":"SBAP7"},{"n":3080,"e":0.22,"sp":"SBAP7"},{"n":3120,"e":0.198,"sp":"SBAP7"},{"n":3160,"e":0.221,"sp":"SBAP7"},{"n":3200,"e":0.204,"sp":"SBAP7"},{"n":3220,"e":0.225,"sp":"SBAP7"},{"n":3240,"e":0.2,"sp":"SBAP7"},{"n":3244,"e":0.185,"sp":"SBAP7"},{"n":3246,"e":0.178,"sp":"SBAP7"},{"n":3248,"e":0.155,"sp":"SBAP7"},{"n":3250,"e":0.21,"sp":"SBAP7"},
{"n":30,"e":0.182,"sp":"SBAP7"},{"n":70,"e":0.19,"sp":"SBAP7"},{"n":110,"e":0.185,"sp":"SBAP7"},{"n":150,"e":0.18,"sp":"SBAP7"},{"n":190,"e":0.188,"sp":"SBAP7"},{"n":230,"e":0.183,"sp":"SBAP7"},{"n":270,"e":0.19,"sp":"SBAP7"},{"n":310,"e":0.186,"sp":"SBAP7"},{"n":350,"e":0.181,"sp":"SBAP7"},{"n":390,"e":0.189,"sp":"SBAP7"},{"n":430,"e":0.184,"sp":"SBAP7"},{"n":470,"e":0.19,"sp":"SBAP7"},{"n":510,"e":0.183,"sp":"SBAP7"},{"n":550,"e":0.188,"sp":"SBAP7"},{"n":590,"e":0.185,"sp":"SBAP7"},{"n":630,"e":0.19,"sp":"SBAP7"},{"n":670,"e":0.184,"sp":"SBAP7"},{"n":710,"e":0.189,"sp":"SBAP7"},{"n":750,"e":0.186,"sp":"SBAP7"},{"n":790,"e":0.191,"sp":"SBAP7"},{"n":830,"e":0.185,"sp":"SBAP7"},{"n":870,"e":0.19,"sp":"SBAP7"},{"n":910,"e":0.187,"sp":"SBAP7"},{"n":950,"e":0.192,"sp":"SBAP7"},{"n":990,"e":0.186,"sp":"SBAP7"},{"n":1030,"e":0.193,"sp":"SBAP7"},{"n":1070,"e":0.188,"sp":"SBAP7"},{"n":1110,"e":0.192,"sp":"SBAP7"},{"n":1150,"e":0.189,"sp":"SBAP7"},{"n":1190,"e":0.194,"sp":"SBAP7"},{"n":1230,"e":0.19,"sp":"SBAP7"},{"n":1270,"e":0.195,"sp":"SBAP7"},{"n":1310,"e":0.191,"sp":"SBAP7"},{"n":1350,"e":0.196,"sp":"SBAP7"},{"n":1390,"e":0.192,"sp":"SBAP7"},{"n":1430,"e":0.197,"sp":"SBAP7"},{"n":1470,"e":0.193,"sp":"SBAP7"},{"n":1510,"e":0.198,"sp":"SBAP7"},{"n":1550,"e":0.194,"sp":"SBAP7"},{"n":1590,"e":0.199,"sp":"SBAP7"},{"n":1630,"e":0.195,"sp":"SBAP7"},{"n":1670,"e":0.2,"sp":"SBAP7"},{"n":1710,"e":0.196,"sp":"SBAP7"},{"n":1750,"e":0.201,"sp":"SBAP7"},{"n":1790,"e":0.197,"sp":"SBAP7"},{"n":1830,"e":0.202,"sp":"SBAP7"},{"n":1870,"e":0.198,"sp":"SBAP7"},{"n":1910,"e":0.203,"sp":"SBAP7"},{"n":1950,"e":0.199,"sp":"SBAP7"},{"n":1990,"e":0.204,"sp":"SBAP7"},{"n":2030,"e":0.2,"sp":"SBAP7"},{"n":2070,"e":0.205,"sp":"SBAP7"},{"n":2110,"e":0.201,"sp":"SBAP7"},{"n":2150,"e":0.206,"sp":"SBAP7"},{"n":2190,"e":0.202,"sp":"SBAP7"},{"n":2230,"e":0.207,"sp":"SBAP7"},{"n":2270,"e":0.203,"sp":"SBAP7"},{"n":2310,"e":0.208,"sp":"SBAP7"},{"n":2350,"e":0.204,"sp":"SBAP7"},{"n":2390,"e":0.209,"sp":"SBAP7"},{"n":2430,"e":0.205,"sp":"SBAP7"},{"n":2470,"e":0.21,"sp":"SBAP7"},{"n":2510,"e":0.206,"sp":"SBAP7"},{"n":2550,"e":0.211,"sp":"SBAP7"},{"n":2590,"e":0.207,"sp":"SBAP7"},{"n":2630,"e":0.212,"sp":"SBAP7"},{"n":2670,"e":0.208,"sp":"SBAP7"},{"n":2710,"e":0.212,"sp":"SBAP7"},{"n":2750,"e":0.209,"sp":"SBAP7"},{"n":2790,"e":0.213,"sp":"SBAP7"},{"n":2830,"e":0.21,"sp":"SBAP7"},{"n":2870,"e":0.214,"sp":"SBAP7"},{"n":2910,"e":0.21,"sp":"SBAP7"},{"n":2950,"e":0.214,"sp":"SBAP7"},{"n":2990,"e":0.211,"sp":"SBAP7"},{"n":3030,"e":0.215,"sp":"SBAP7"},{"n":3070,"e":0.211,"sp":"SBAP7"},{"n":3110,"e":0.215,"sp":"SBAP7"},{"n":3150,"e":0.212,"sp":"SBAP7"},{"n":3190,"e":0.216,"sp":"SBAP7"},
{"n":1,"e":0.2,"sp":"SBAP9"},{"n":10,"e":0.207,"sp":"SBAP9"},{"n":30,"e":0.203,"sp":"SBAP9"},{"n":50,"e":0.209,"sp":"SBAP9"},{"n":70,"e":0.204,"sp":"SBAP9"},{"n":90,"e":0.21,"sp":"SBAP9"},{"n":110,"e":0.205,"sp":"SBAP9"},{"n":130,"e":0.209,"sp":"SBAP9"},{"n":150,"e":0.218,"sp":"SBAP9"},{"n":170,"e":0.206,"sp":"SBAP9"},{"n":190,"e":0.21,"sp":"SBAP9"},{"n":210,"e":0.204,"sp":"SBAP9"},{"n":230,"e":0.209,"sp":"SBAP9"},{"n":250,"e":0.206,"sp":"SBAP9"},{"n":270,"e":0.211,"sp":"SBAP9"},{"n":290,"e":0.205,"sp":"SBAP9"},{"n":310,"e":0.21,"sp":"SBAP9"},{"n":330,"e":0.206,"sp":"SBAP9"},{"n":350,"e":0.212,"sp":"SBAP9"},{"n":370,"e":0.205,"sp":"SBAP9"},{"n":390,"e":0.211,"sp":"SBAP9"},{"n":410,"e":0.207,"sp":"SBAP9"},{"n":430,"e":0.213,"sp":"SBAP9"},{"n":450,"e":0.206,"sp":"SBAP9"},{"n":470,"e":0.212,"sp":"SBAP9"},{"n":490,"e":0.207,"sp":"SBAP9"},{"n":510,"e":0.213,"sp":"SBAP9"},{"n":530,"e":0.206,"sp":"SBAP9"},{"n":550,"e":0.211,"sp":"SBAP9"},{"n":570,"e":0.208,"sp":"SBAP9"},{"n":590,"e":0.216,"sp":"SBAP9"},{"n":610,"e":0.207,"sp":"SBAP9"},{"n":630,"e":0.212,"sp":"SBAP9"},{"n":650,"e":0.208,"sp":"SBAP9"},{"n":670,"e":0.225,"sp":"SBAP9"},{"n":690,"e":0.209,"sp":"SBAP9"},{"n":710,"e":0.214,"sp":"SBAP9"},{"n":730,"e":0.207,"sp":"SBAP9"},{"n":750,"e":0.213,"sp":"SBAP9"},{"n":770,"e":0.209,"sp":"SBAP9"},{"n":790,"e":0.215,"sp":"SBAP9"},{"n":810,"e":0.208,"sp":"SBAP9"},{"n":830,"e":0.214,"sp":"SBAP9"},{"n":850,"e":0.21,"sp":"SBAP9"},{"n":870,"e":0.215,"sp":"SBAP9"},{"n":890,"e":0.209,"sp":"SBAP9"},{"n":910,"e":0.216,"sp":"SBAP9"},{"n":930,"e":0.21,"sp":"SBAP9"},{"n":950,"e":0.217,"sp":"SBAP9"},{"n":970,"e":0.211,"sp":"SBAP9"},{"n":990,"e":0.214,"sp":"SBAP9"},{"n":1000,"e":0.22,"sp":"SBAP9"},{"n":1003,"e":0.23,"sp":"SBAP9"},{"n":1006,"e":0.245,"sp":"SBAP9"},{"n":1009,"e":0.26,"sp":"SBAP9"},{"n":1012,"e":0.275,"sp":"SBAP9"},{"n":1015,"e":0.29,"sp":"SBAP9"},{"n":1018,"e":0.3,"sp":"SBAP9"},{"n":1021,"e":0.31,"sp":"SBAP9"},{"n":1024,"e":0.318,"sp":"SBAP9"},{"n":1027,"e":0.312,"sp":"SBAP9"},{"n":1030,"e":0.305,"sp":"SBAP9"},{"n":1033,"e":0.295,"sp":"SBAP9"},{"n":1036,"e":0.285,"sp":"SBAP9"},{"n":1040,"e":0.27,"sp":"SBAP9"}
],
"f": [
{"n":996,"ev":"SBAP9 failure initiation"},{"n":1000,"ev":"SBAP9 failure"},{"n":3224,"ev":"SBAP7 failure initiation"},{"n":3247,"ev":"SBAP7 failure"}
]
},
"concat": [
{
"width": 472, "height": 380,
"title": {"text": "(a)", "orient": "bottom", "anchor": "middle", "frame": "group", "font": "Liberation Sans", "fontSize": 21, "fontWeight": "normal", "color": "#111", "offset": 9, "dx": 4},
"layer": [
{"data": {"name": "a"},
"mark": {"type": "line", "strokeWidth": 1.3},
"encoding": {
"x": {"field": "t", "type": "quantitative", "scale": {"domain": [0, 600], "nice": false, "zero": false},
"axis": {"orient": "bottom", "title": "Time (sec)", "values": [0,50,100,150,200,250,300,350,400,450,500,550,600], "labelExpr": "datum.value % 100 === 0 ? datum.label : ''", "tickSize": {"condition": {"test": "datum.value % 100 === 0", "value": -7}, "value": -4}, "labelPadding": 14, "titlePadding": 12}},
"y": {"field": "s", "type": "quantitative", "scale": {"domain": [10, 200], "nice": false, "zero": false},
"axis": {"orient": "left", "title": "Stress (MPa)", "values": [10,20,30,40,50,60,70,80,90,100,110,120,130,140,150,160,170,180,190,200], "labelExpr": "datum.value % 20 === 0 ? datum.label : ''", "tickSize": {"condition": {"test": "datum.value % 20 === 0", "value": -7}, "value": -4}, "labelPadding": 16, "titlePadding": 7}},
"color": {"field": "c", "type": "nominal", "scale": {"domain": ["1","2","10","500","996"], "range": ["#000000","#ff0000","#0000ff","#ff8000","#00cc00"]},
"legend": {"orient": "none", "legendX": 223, "legendY": 107, "title": null, "labelExpr": "'cycle ' + datum.label + (datum.label == '500' ? ' (mid-life)' : datum.label == '996' ? ' (failure initiation)' : '')", "labelFont": "Liberation Serif", "labelFontSize": 16, "labelLimit": 400, "labelColor": "#111", "symbolType": "M-3,0H3", "symbolSize": 121, "symbolStrokeWidth": 1.5, "symbolOffset": 10, "labelOffset": 17, "padding": 3, "rowPadding": 4.2, "strokeColor": "#111", "fillColor": "white"}}
}},
{"data": {"values": [{}]},
"mark": {"type": "text", "text": "SBAP9 with 150 psi", "font": "Liberation Serif", "fontSize": 24, "align": "right", "baseline": "middle", "color": "#111"},
"encoding": {
"x": {"datum": 566, "type": "quantitative", "axis": {"orient": "top", "title": null, "labels": false, "values": [0,50,100,150,200,250,300,350,400,450,500,550,600], "tickSize": {"condition": {"test": "datum.value % 100 === 0", "value": -7}, "value": -4}}},
"y": {"datum": 183, "type": "quantitative", "axis": {"orient": "right", "title": null, "labels": false, "values": [10,20,30,40,50,60,70,80,90,100,110,120,130,140,150,160,170,180,190,200], "tickSize": {"condition": {"test": "datum.value % 20 === 0", "value": -7}, "value": -4}}}
}}
]
},
{
"width": 472, "height": 380,
"title": {"text": "(b)", "orient": "bottom", "anchor": "middle", "frame": "group", "font": "Liberation Sans", "fontSize": 21, "fontWeight": "normal", "color": "#111", "offset": 9, "dx": 12},
"layer": [
{"data": {"name": "b"},
"mark": {"type": "point", "shape": "diamond", "filled": false, "size": 45, "strokeWidth": 1},
"encoding": {
"x": {"field": "t", "type": "quantitative", "scale": {"domain": [0, 600], "nice": false, "zero": false},
"axis": {"orient": "bottom", "title": "Time (sec)", "values": [0,50,100,150,200,250,300,350,400,450,500,550,600], "labelExpr": "datum.value % 100 === 0 ? datum.label : ''", "tickSize": {"condition": {"test": "datum.value % 100 === 0", "value": -7}, "value": -4}, "labelPadding": 14, "titlePadding": 12}},
"y": {"field": "s", "type": "quantitative", "scale": {"domain": [10, 200], "nice": false, "zero": false},
"axis": {"orient": "left", "title": "Stress (MPa)", "values": [10,20,30,40,50,60,70,80,90,100,110,120,130,140,150,160,170,180,190,200], "labelExpr": "datum.value % 20 === 0 ? datum.label : ''", "tickSize": {"condition": {"test": "datum.value % 20 === 0", "value": -7}, "value": -4}, "labelPadding": 16, "titlePadding": 6}},
"color": {"field": "c", "type": "nominal", "scale": {"domain": ["1","2","10","1625","3224"], "range": ["#000000","#ff0000","#1010ff","#ff8c1a","#22cc22"]},
"legend": {"orient": "none", "legendX": 226, "legendY": 98, "title": null, "labelExpr": "'cycle ' + datum.label + (datum.label == '1625' ? ' (mid-life)' : datum.label == '3224' ? ' (failure initiation)' : '')", "labelFont": "Liberation Serif", "labelFontSize": 16, "labelLimit": 400, "labelColor": "#111", "symbolType": "diamond", "symbolSize": 45, "symbolStrokeWidth": 1, "symbolOffset": 14, "labelOffset": 13, "padding": 3, "rowPadding": 4.2, "strokeColor": "#111", "fillColor": "white"}}
}},
{"data": {"values": [{}]},
"mark": {"type": "text", "text": "SBAP7 with 2 psi", "font": "Liberation Serif", "fontSize": 24, "align": "right", "baseline": "middle", "color": "#111"},
"encoding": {
"x": {"datum": 564, "type": "quantitative", "axis": {"orient": "top", "title": null, "labels": false, "values": [0,50,100,150,200,250,300,350,400,450,500,550,600], "tickSize": {"condition": {"test": "datum.value % 100 === 0", "value": -7}, "value": -4}}},
"y": {"datum": 180, "type": "quantitative", "axis": {"orient": "right", "title": null, "labels": false, "values": [10,20,30,40,50,60,70,80,90,100,110,120,130,140,150,160,170,180,190,200], "tickSize": {"condition": {"test": "datum.value % 20 === 0", "value": -7}, "value": -4}}}
}}
]
},
{
"width": 472, "height": 380,
"title": {"text": "(c)", "orient": "bottom", "anchor": "middle", "frame": "group", "font": "Liberation Sans", "fontSize": 21, "fontWeight": "normal", "color": "#111", "offset": 16, "dx": -27},
"layer": [
{"data": {"name": "c"},
"transform": [{"filter": {"field": "sp", "equal": "SBAP7"}}],
"mark": {"type": "point", "shape": "square", "filled": false, "size": 55, "strokeWidth": 1.2, "color": "#1f1fff"},
"encoding": {
"x": {"field": "n", "type": "quantitative", "scale": {"domain": [0, 3500], "nice": false, "zero": false},
"axis": {"orient": "bottom", "title": "Cycle number", "values": [0,250,500,750,1000,1250,1500,1750,2000,2250,2500,2750,3000,3250,3500], "labelExpr": "datum.value % 500 === 0 ? format(datum.value, 'd') : ''", "tickSize": {"condition": {"test": "datum.value % 500 === 0", "value": -7}, "value": -4}, "labelPadding": 14, "titlePadding": 12}},
"y": {"field": "s", "type": "quantitative", "scale": {"domain": [0, 160], "nice": false, "zero": false},
"axis": {"orient": "left", "title": ["Stress at the beginning and end of the", "holding segment (MPa)"], "titleLineHeight": 31, "values": [0,10,20,30,40,50,60,70,80,90,100,110,120,130,140,150,160], "labelExpr": "datum.value % 20 === 0 ? datum.label : ''", "tickSize": {"condition": {"test": "datum.value % 20 === 0", "value": -7}, "value": -4}, "labelPadding": 16, "titlePadding": 13}}
}},
{"data": {"name": "c"},
"transform": [{"filter": {"and": [{"field": "sp", "equal": "SBAP9"}, {"field": "seg", "equal": "begin"}]}}],
"mark": {"type": "point", "shape": "diamond", "filled": false, "size": 60, "strokeWidth": 1, "color": "#111"},
"encoding": {"x": {"field": "n", "type": "quantitative", "axis": null}, "y": {"field": "s", "type": "quantitative", "axis": null}}},
{"data": {"name": "c"},
"transform": [{"filter": {"and": [{"field": "sp", "equal": "SBAP9"}, {"field": "seg", "equal": "end"}]}}],
"mark": {"type": "point", "shape": "square", "filled": false, "size": 50, "strokeWidth": 1, "color": "#111"},
"encoding": {"x": {"field": "n", "type": "quantitative", "axis": null}, "y": {"field": "s", "type": "quantitative", "axis": null}}},
{"data": {"name": "f"},
"mark": {"type": "rule", "strokeWidth": 1.3},
"encoding": {
"x": {"field": "n", "type": "quantitative", "axis": null},
"color": {"field": "ev", "type": "nominal", "scale": {"domain": ["SBAP9 failure initiation","SBAP9 failure","SBAP7 failure initiation","SBAP7 failure"], "range": ["#808080","#333333","#1a1aff","#8a2be2"]},
"legend": {"orient": "none", "legendX": 230, "legendY": 9, "title": null, "labelFont": "Liberation Sans", "labelFontSize": 17.5, "labelLimit": 400, "labelColor": "#111", "symbolType": "M-3.5,0H3.5", "symbolSize": 121, "symbolStrokeWidth": 1.5, "symbolOffset": 12, "labelOffset": 16, "padding": 3, "rowPadding": 3.8, "strokeColor": "#111", "fillColor": "white"}},
"strokeDash": {"field": "ev", "type": "nominal", "scale": {"domain": ["SBAP9 failure initiation","SBAP9 failure","SBAP7 failure initiation","SBAP7 failure"], "range": [[4,3],[1,0],[8,3,2,3],[1,0]]},
"legend": {"orient": "none", "legendX": 230, "legendY": 9, "title": null, "labelFont": "Liberation Sans", "labelFontSize": 17.5, "labelLimit": 400, "labelColor": "#111", "symbolType": "M-3.5,0H3.5", "symbolSize": 121, "symbolStrokeWidth": 1.5, "symbolOffset": 12, "labelOffset": 16, "padding": 3, "rowPadding": 3.8, "strokeColor": "#111", "fillColor": "white"}}
}},
{"data": {"values": [{}]},
"mark": {"type": "text", "text": "SBAP9, 150 psi", "font": "Liberation Sans", "fontSize": 16, "align": "left", "baseline": "middle", "color": "#111"},
"encoding": {
"x": {"datum": 156, "type": "quantitative", "axis": {"orient": "top", "title": null, "labels": false, "values": [0,250,500,750,1000,1250,1500,1750,2000,2250,2500,2750,3000,3250,3500], "tickSize": {"condition": {"test": "datum.value % 500 === 0", "value": -7}, "value": -4}}},
"y": {"datum": 118.3, "type": "quantitative", "axis": {"orient": "right", "title": null, "labels": false, "values": [0,10,20,30,40,50,60,70,80,90,100,110,120,130,140,150,160], "tickSize": {"condition": {"test": "datum.value % 20 === 0", "value": -7}, "value": -4}}}
}},
{"data": {"values": [{}]},
"mark": {"type": "text", "text": "SBAP7, 2 psi", "font": "Liberation Sans", "fontSize": 16, "align": "left", "baseline": "middle", "color": "#2020ee"},
"encoding": {"x": {"datum": 1839, "type": "quantitative", "axis": null}, "y": {"datum": 91.1, "type": "quantitative", "axis": null}}},
{"data": {"values": [{}]},
"mark": {"type": "rule", "strokeWidth": 1.2, "color": "#111"},
"encoding": {"x": {"datum": 156, "type": "quantitative", "axis": null}, "x2": {"datum": 912}, "y": {"datum": 114.5, "type": "quantitative", "axis": null}, "y2": {"datum": 114.5}}},
{"data": {"values": [{}]},
"mark": {"type": "rule", "strokeWidth": 1.2, "color": "#111"},
"encoding": {"x": {"datum": 200, "type": "quantitative", "axis": null}, "x2": {"datum": 160}, "y": {"datum": 113.7, "type": "quantitative", "axis": null}, "y2": {"datum": 106}}},
{"data": {"values": [{}]},
"mark": {"type": "point", "shape": "triangle-up", "filled": true, "size": 30, "angle": 190, "color": "#111", "opacity": 1},
"encoding": {"x": {"datum": 158, "type": "quantitative", "axis": null}, "y": {"datum": 105, "type": "quantitative", "axis": null}}},
{"data": {"values": [{}]},
"mark": {"type": "rule", "strokeWidth": 1.2, "color": "#2020ee"},
"encoding": {"x": {"datum": 1869, "type": "quantitative", "axis": null}, "x2": {"datum": 2536}, "y": {"datum": 87.4, "type": "quantitative", "axis": null}, "y2": {"datum": 87.4}}},
{"data": {"values": [{}]},
"mark": {"type": "rule", "strokeWidth": 1.2, "color": "#2020ee"},
"encoding": {"x": {"datum": 1869, "type": "quantitative", "axis": null}, "x2": {"datum": 1745}, "y": {"datum": 87.4, "type": "quantitative", "axis": null}, "y2": {"datum": 75.5}}},
{"data": {"values": [{}]},
"mark": {"type": "point", "shape": "triangle-up", "filled": true, "size": 30, "angle": 210, "color": "#2020ee", "opacity": 1},
"encoding": {"x": {"datum": 1740, "type": "quantitative", "axis": null}, "y": {"datum": 75, "type": "quantitative", "axis": null}}}
]
},
{
"width": 472, "height": 380,
"title": {"text": "(d)", "orient": "bottom", "anchor": "middle", "frame": "group", "font": "Liberation Sans", "fontSize": 21, "fontWeight": "normal", "color": "#111", "offset": 16, "dx": 11},
"layer": [
{"data": {"name": "d"},
"transform": [{"filter": {"field": "sp", "equal": "SBAP7"}}],
"mark": {"type": "point", "shape": "circle", "filled": false, "size": 60, "strokeWidth": 1.1, "color": "#1f1fff"},
"encoding": {
"x": {"field": "n", "type": "quantitative", "scale": {"domain": [0, 3500], "nice": false, "zero": false},
"axis": {"orient": "bottom", "title": "Cycle number", "values": [0,250,500,750,1000,1250,1500,1750,2000,2250,2500,2750,3000,3250,3500], "labelExpr": "datum.value % 500 === 0 ? format(datum.value, 'd') : ''", "tickSize": {"condition": {"test": "datum.value % 500 === 0", "value": -7}, "value": -4}, "labelPadding": 14, "titlePadding": 12}},
"y": {"field": "e", "type": "quantitative", "scale": {"domain": [0, 0.4], "nice": false, "zero": false},
"axis": {"orient": "left", "title": "Loading strain range (%)", "values": [0,0.05,0.1,0.15,0.2,0.25,0.3,0.35,0.4], "labelExpr": "round(datum.value*100) % 10 === 0 ? format(datum.value, '.1f') : ''", "tickSize": {"condition": {"test": "round(datum.value*100) % 10 === 0", "value": -7}, "value": -4}, "labelPadding": 16, "titlePadding": 13}}
}},
{"data": {"name": "d"},
"transform": [{"filter": {"field": "sp", "equal": "SBAP9"}}],
"mark": {"type": "point", "shape": "diamond", "filled": false, "size": 80, "strokeWidth": 1, "color": "#111"},
"encoding": {"x": {"field": "n", "type": "quantitative", "axis": null}, "y": {"field": "e", "type": "quantitative", "axis": null}}},
{"data": {"name": "f"},
"mark": {"type": "rule", "strokeWidth": 1.3},
"encoding": {
"x": {"field": "n", "type": "quantitative", "axis": null},
"color": {"field": "ev", "type": "nominal", "scale": {"domain": ["SBAP9 failure initiation","SBAP9 failure","SBAP7 failure initiation","SBAP7 failure"], "range": ["#808080","#333333","#1a1aff","#8a2be2"]},
"legend": {"orient": "none", "legendX": 261, "legendY": 5, "title": null, "labelFont": "Liberation Serif", "labelFontSize": 16, "labelLimit": 400, "labelColor": "#111", "symbolType": "M-3.36,0H3.36", "symbolSize": 121, "symbolStrokeWidth": 1.5, "symbolOffset": 10, "labelOffset": 16, "padding": 3, "rowPadding": 4, "strokeColor": "#111", "fillColor": "white"}},
"strokeDash": {"field": "ev", "type": "nominal", "scale": {"domain": ["SBAP9 failure initiation","SBAP9 failure","SBAP7 failure initiation","SBAP7 failure"], "range": [[4,3],[1,0],[8,3,2,3],[1,0]]},
"legend": {"orient": "none", "legendX": 261, "legendY": 5, "title": null, "labelFont": "Liberation Serif", "labelFontSize": 16, "labelLimit": 400, "labelColor": "#111", "symbolType": "M-3.36,0H3.36", "symbolSize": 121, "symbolStrokeWidth": 1.5, "symbolOffset": 10, "labelOffset": 16, "padding": 3, "rowPadding": 4, "strokeColor": "#111", "fillColor": "white"}}
}},
{"data": {"values": [{}]},
"mark": {"type": "text", "text": "SBAP9, 150 psi", "font": "Liberation Sans", "fontSize": 16, "align": "left", "baseline": "middle", "color": "#111"},
"encoding": {
"x": {"datum": 99, "type": "quantitative", "axis": {"orient": "top", "title": null, "labels": false, "values": [0,250,500,750,1000,1250,1500,1750,2000,2250,2500,2750,3000,3250,3500], "tickSize": {"condition": {"test": "datum.value % 500 === 0", "value": -7}, "value": -4}}},
"y": {"datum": 0.262, "type": "quantitative", "axis": {"orient": "right", "title": null, "labels": false, "values": [0,0.05,0.1,0.15,0.2,0.25,0.3,0.35,0.4], "tickSize": {"condition": {"test": "round(datum.value*100) % 10 === 0", "value": -7}, "value": -4}}}
}},
{"data": {"values": [{}]},
"mark": {"type": "text", "text": "SBAP7, 2 psi", "font": "Liberation Sans", "fontSize": 16, "align": "left", "baseline": "middle", "color": "#2020ee"},
"encoding": {"x": {"datum": 1812, "type": "quantitative", "axis": null}, "y": {"datum": 0.1498, "type": "quantitative", "axis": null}}},
{"data": {"values": [{}]},
"mark": {"type": "rule", "strokeWidth": 1.2, "color": "#111"},
"encoding": {"x": {"datum": 187, "type": "quantitative", "axis": null}, "x2": {"datum": 897}, "y": {"datum": 0.2498, "type": "quantitative", "axis": null}, "y2": {"datum": 0.2498}}},
{"data": {"values": [{}]},
"mark": {"type": "rule", "strokeWidth": 1.2, "color": "#111"},
"encoding": {"x": {"datum": 200, "type": "quantitative", "axis": null}, "x2": {"datum": 142}, "y": {"datum": 0.2488, "type": "quantitative", "axis": null}, "y2": {"datum": 0.224}}},
{"data": {"values": [{}]},
"mark": {"type": "point", "shape": "triangle-up", "filled": true, "size": 30, "angle": 199, "color": "#111", "opacity": 1},
"encoding": {"x": {"datum": 137, "type": "quantitative", "axis": null}, "y": {"datum": 0.222, "type": "quantitative", "axis": null}}},
{"data": {"values": [{}]},
"mark": {"type": "rule", "strokeWidth": 1.2, "color": "#2020ee"},
"encoding": {"x": {"datum": 1798, "type": "quantitative", "axis": null}, "x2": {"datum": 2538}, "y": {"datum": 0.1397, "type": "quantitative", "axis": null}, "y2": {"datum": 0.1397}}},
{"data": {"values": [{}]},
"mark": {"type": "rule", "strokeWidth": 1.2, "color": "#2020ee"},
"encoding": {"x": {"datum": 1798, "type": "quantitative", "axis": null}, "x2": {"datum": 1682}, "y": {"datum": 0.1397, "type": "quantitative", "axis": null}, "y2": {"datum": 0.174}}},
{"data": {"values": [{}]},
"mark": {"type": "point", "shape": "triangle-up", "filled": true, "size": 30, "angle": 333, "color": "#2020ee", "opacity": 1},
"encoding": {"x": {"datum": 1676, "type": "quantitative", "axis": null}, "y": {"datum": 0.176, "type": "quantitative", "axis": null}}}
]
}
],
"config": {
"view": {"stroke": "#222", "strokeWidth": 1.5},
"axis": {"domain": false, "grid": false, "labelFont": "Liberation Serif", "labelFontSize": 24, "labelColor": "#111", "titleFont": "Liberation Serif", "titleFontSize": 25, "titleFontWeight": "normal", "titleColor": "#111", "tickColor": "#222", "tickWidth": 1.2, "labelFlush": false, "labelOverlap": false}
}
}
